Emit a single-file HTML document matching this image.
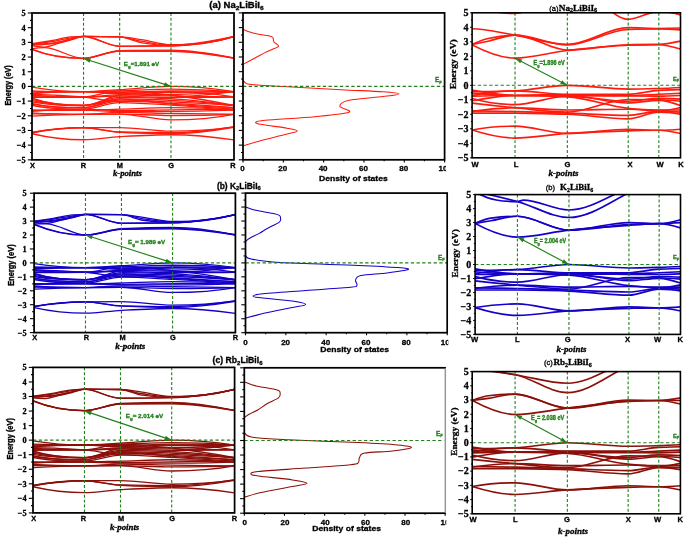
<!DOCTYPE html>
<html><head><meta charset="utf-8"><style>
html,body{margin:0;padding:0;background:#fff;}
body{width:685px;height:539px;overflow:hidden;font-family:"Liberation Sans", sans-serif;}
svg{display:block;}
svg{will-change:transform;}
</style></head><body>
<svg width="685" height="539" viewBox="0 0 685 539">
<rect width="685" height="539" fill="#fff"/>
<clipPath id="c13"><rect x="32" y="13" width="202" height="146.85"/></clipPath>
<g clip-path="url(#c13)">
<g fill="none" stroke="#ff1a0d" stroke-width="1.3" stroke-linejoin="round">
<path d="M32 132.24 C49.18 129.87 66.37 127.82 83.55 127.69 C95.59 127.6 107.63 127.54 119.67 127.54 C136.77 127.54 153.87 131.21 170.98 131.21 C191.98 131.21 212.99 129.92 234 126.81"/>
<path d="M32 132.68 C49.18 128.85 66.37 127.69 83.55 127.69 C95.59 127.69 107.63 131.63 119.67 131.95 C136.77 132.41 153.87 132.68 170.98 132.68 C191.98 132.68 212.99 130.01 234 126.81"/>
<path d="M32 133.12 C49.18 129.09 66.37 127.84 83.55 127.84 C95.59 127.84 107.63 131.66 119.67 132.24 C136.77 133.06 153.87 133.71 170.98 133.71 C191.98 133.71 212.99 130.92 234 127.25"/>
<path d="M32 133.71 C49.18 137.76 66.37 139.73 83.55 139.73 C95.59 139.73 107.63 137.29 119.67 136.65 C136.77 135.74 153.87 134.74 170.98 134.74 C191.98 134.74 212.99 136.79 234 139.88"/>
</g>
<g fill="none" stroke="#ff1a0d" stroke-width="1.3" stroke-linejoin="round">
<path d="M32 87.16 C49.18 90.14 66.37 91.71 83.55 91.71 C95.59 91.71 107.63 90.37 119.67 89.66 C136.77 88.64 153.87 86.42 170.98 86.42 C191.98 86.42 212.99 88.25 234 91.71"/>
<path d="M32 90.83 C49.18 91.54 66.37 91.71 83.55 91.71 C95.59 91.71 107.63 91.17 119.67 90.83 C136.77 90.35 153.87 89.07 170.98 89.07 C191.98 89.07 212.99 89.95 234 91.71"/>
<path d="M32 91.86 C49.18 91.71 66.37 91.71 83.55 91.71 C95.59 91.71 107.63 92.3 119.67 92.3 C136.77 92.3 153.87 90.83 170.98 90.83 C191.98 90.83 212.99 90.92 234 91.71"/>
<path d="M32 93.77 C49.18 92.1 66.37 91.71 83.55 91.71 C95.59 91.71 107.63 93.48 119.67 93.77 C136.77 94.17 153.87 94.5 170.98 94.5 C191.98 94.5 212.99 93.32 234 91.71"/>
<path d="M32 95.24 C49.18 96.74 66.37 97 83.55 97 C95.59 97 107.63 94.94 119.67 94.94 C136.77 94.94 153.87 95.66 170.98 95.97 C191.98 96.35 212.99 96.7 234 97"/>
<path d="M32 96.7 C49.18 97 66.37 97 83.55 97 C95.59 97 107.63 96.12 119.67 96.12 C136.77 96.12 153.87 97.44 170.98 97.44 C191.98 97.44 212.99 97.44 234 97"/>
<path d="M32 98.17 C49.18 104.32 66.37 105.52 83.55 105.52 C95.59 105.52 107.63 97.44 119.67 97.44 C136.77 97.44 153.87 98.15 170.98 98.91 C191.98 99.83 212.99 102.43 234 105.52"/>
<path d="M32 99.2 C49.18 104.39 66.37 105.52 83.55 105.52 C95.59 105.52 107.63 98.91 119.67 98.91 C136.77 98.91 153.87 99.66 170.98 100.38 C191.98 101.25 212.99 103.19 234 105.52"/>
<path d="M32 100.52 C49.18 104.69 66.37 105.52 83.55 105.52 C95.59 105.52 107.63 100.08 119.67 100.08 C136.77 100.08 153.87 101.11 170.98 101.84 C191.98 102.74 212.99 104.01 234 105.52"/>
<path d="M32 103.31 C49.18 107.49 66.37 107.72 83.55 107.72 C95.59 107.72 107.63 101.11 119.67 101.11 C136.77 101.11 153.87 102.41 170.98 103.31 C191.98 104.42 212.99 105.94 234 107.72"/>
<path d="M32 105.22 C49.18 109.17 66.37 109.19 83.55 109.19 C95.59 109.19 107.63 102.58 119.67 102.58 C136.77 102.58 153.87 104.13 170.98 105.07 C191.98 106.24 212.99 107.62 234 109.19"/>
<path d="M32 109.92 C49.18 110.21 66.37 110.21 83.55 110.21 C95.59 110.21 107.63 109.53 119.67 109.19 C136.77 108.7 153.87 107.72 170.98 107.72 C191.98 107.72 212.99 108.59 234 110.21"/>
<path d="M32 111.39 C49.18 109.81 66.37 109.19 83.55 109.19 C95.59 109.19 107.63 110.66 119.67 110.66 C136.77 110.66 153.87 110.14 170.98 109.92 C191.98 109.65 212.99 109.4 234 109.19"/>
<path d="M32 112.86 C49.18 114.17 66.37 114.33 83.55 114.33 C95.59 114.33 107.63 112.42 119.67 112.42 C136.77 112.42 153.87 113.16 170.98 113.45 C191.98 113.79 212.99 114.1 234 114.33"/>
<path d="M32 113.89 C49.18 114.2 66.37 114.33 83.55 114.33 C95.59 114.33 107.63 114.03 119.67 114.03 C136.77 114.03 153.87 115.5 170.98 115.5 C191.98 115.5 212.99 115.27 234 114.33"/>
<path d="M32 116.09 C49.18 115.24 66.37 114.54 83.55 114.33 C95.59 114.17 107.63 114.03 119.67 114.03 C136.77 114.03 153.87 119.91 170.98 119.91 C191.98 119.91 212.99 118.54 234 114.33"/>
<path d="M32 93.03 C49.18 91.96 66.37 91.71 83.55 91.71 C95.59 91.71 107.63 93.03 119.67 93.03 C136.77 93.03 153.87 92.49 170.98 92.3 C191.98 92.06 212.99 91.85 234 91.71"/>
<path d="M32 97.44 C49.18 97.44 66.37 97.29 83.55 97 C95.59 96.79 107.63 90.83 119.67 90.83 C136.77 90.83 153.87 93.33 170.98 95.24 C191.98 97.57 212.99 101.19 234 105.52"/>
<path d="M32 101.84 C49.18 105.52 66.37 105.52 83.55 105.52 C95.59 105.52 107.63 96.66 119.67 95.24 C136.77 93.21 153.87 91.56 170.98 91.56 C191.98 91.56 212.99 93.36 234 97"/>
<path d="M32 94.5 C49.18 94.5 66.37 95.74 83.55 97 C95.59 97.88 107.63 101.84 119.67 101.84 C136.77 101.84 153.87 99.61 170.98 98.17 C191.98 96.41 212.99 94.22 234 91.71"/>
<path d="M32 104.05 C49.18 107.72 66.37 107.72 83.55 107.72 C95.59 107.72 107.63 98.91 119.67 98.91 C136.77 98.91 153.87 102.78 170.98 104.05 C191.98 105.61 212.99 106.98 234 107.72"/>
<path d="M32 110.66 C49.18 110.21 66.37 110.21 83.55 110.21 C95.59 110.21 107.63 111.39 119.67 111.39 C136.77 111.39 153.87 111.39 170.98 111.39 C191.98 111.39 212.99 110.82 234 110.21"/>
</g>
<g fill="none" stroke="#ff1a0d" stroke-width="1.3" stroke-linejoin="round">
<path d="M32 43.69 C38.46 42.85 44.93 41.86 51.39 40.75 C57.92 39.64 64.45 37.41 70.99 36.94 C75.17 36.63 79.36 36.35 83.55 36.35 C95.59 36.35 107.63 36.57 119.67 36.94 C126.87 37.16 134.08 38.56 141.28 39.58 C151.18 40.99 161.08 44.72 170.98 44.72 C191.98 44.72 212.99 43.51 234 36.35"/>
<path d="M32 44.13 C38.46 43.51 44.93 42.64 51.39 41.64 C57.92 40.62 64.45 38.75 70.99 37.82 C75.17 37.22 79.36 36.35 83.55 36.35 C95.59 36.35 107.63 36.55 119.67 36.94 C126.87 37.17 134.08 40.01 141.28 41.2 C151.18 42.82 161.08 45.31 170.98 45.31 C191.98 45.31 212.99 43.34 234 36.35"/>
<path d="M32 44.57 C38.46 44.51 44.93 43.82 51.39 43.1 C57.92 42.38 64.45 40.36 70.99 38.99 C75.17 38.11 79.36 36.35 83.55 36.35 C95.59 36.35 107.63 36.54 119.67 36.94 C126.87 37.18 134.08 41.56 141.28 42.66 C151.18 44.18 161.08 45.75 170.98 45.75 C191.98 45.75 212.99 43.22 234 36.64"/>
<path d="M32 45.6 C36.11 46.83 40.21 47.07 44.32 47.07 C48.97 47.07 53.61 44.65 58.26 43.4 C62.5 42.25 66.74 41.03 70.99 39.87 C75.17 38.73 79.36 36.5 83.55 36.5 C95.59 36.5 107.63 46.33 119.67 46.33 C136.77 46.33 153.87 46.22 170.98 46.04 C191.98 45.82 212.99 41.51 234 36.79"/>
<path d="M32 48.68 C36.11 47.99 40.21 47.66 44.32 47.66 C57.4 47.66 70.47 58.38 83.55 58.38 C95.59 58.38 107.63 50.8 119.67 50.59 C136.77 50.3 153.87 50.15 170.98 50.15 C191.98 50.15 212.99 53.81 234 57.94"/>
<path d="M32 49.13 C49.18 56.08 66.37 58.38 83.55 58.38 C95.59 58.38 107.63 51.11 119.67 51.03 C136.77 50.93 153.87 50.89 170.98 50.89 C191.98 50.89 212.99 54.4 234 58.23"/>
<path d="M32 49.57 C49.18 56.36 66.37 58.52 83.55 58.52 C95.59 58.52 107.63 51.18 119.67 51.18 C136.77 51.18 153.87 51.29 170.98 51.47 C191.98 51.7 212.99 54.87 234 58.38"/>
<path d="M32 45.01 C38.46 45.01 44.93 44.45 51.39 43.84 C57.92 43.22 64.45 40.97 70.99 39.43 C75.17 38.45 79.36 36.35 83.55 36.35 C95.59 36.35 107.63 46.19 119.67 46.19 C136.77 46.19 153.87 45.89 170.98 45.45 C191.98 44.92 212.99 40.96 234 36.5"/>
</g>
</g>
<line x1="83.55" y1="13" x2="83.55" y2="159.85" stroke="#22801a" stroke-width="1.1" stroke-dasharray="2.9 2"/>
<line x1="119.67" y1="13" x2="119.67" y2="159.85" stroke="#22801a" stroke-width="1.1" stroke-dasharray="2.9 2"/>
<line x1="170.98" y1="13" x2="170.98" y2="159.85" stroke="#22801a" stroke-width="1.1" stroke-dasharray="2.9 2"/>
<line x1="32" y1="86.42" x2="234" y2="86.42" stroke="#22801a" stroke-width="1.1" stroke-dasharray="3.3 2.4"/>
<rect x="32" y="13" width="202" height="146.85" fill="none" stroke="#000" stroke-width="1.75"/>
<line x1="27.8" y1="159.85" x2="32" y2="159.85" stroke="#000" stroke-width="1.1"/>
<line x1="30" y1="152.51" x2="32" y2="152.51" stroke="#000" stroke-width="1.1"/>
<line x1="27.8" y1="145.16" x2="32" y2="145.16" stroke="#000" stroke-width="1.1"/>
<line x1="30" y1="137.82" x2="32" y2="137.82" stroke="#000" stroke-width="1.1"/>
<line x1="27.8" y1="130.48" x2="32" y2="130.48" stroke="#000" stroke-width="1.1"/>
<line x1="30" y1="123.14" x2="32" y2="123.14" stroke="#000" stroke-width="1.1"/>
<line x1="27.8" y1="115.79" x2="32" y2="115.79" stroke="#000" stroke-width="1.1"/>
<line x1="30" y1="108.45" x2="32" y2="108.45" stroke="#000" stroke-width="1.1"/>
<line x1="27.8" y1="101.11" x2="32" y2="101.11" stroke="#000" stroke-width="1.1"/>
<line x1="30" y1="93.77" x2="32" y2="93.77" stroke="#000" stroke-width="1.1"/>
<line x1="27.8" y1="86.42" x2="32" y2="86.42" stroke="#000" stroke-width="1.1"/>
<line x1="30" y1="79.08" x2="32" y2="79.08" stroke="#000" stroke-width="1.1"/>
<line x1="27.8" y1="71.74" x2="32" y2="71.74" stroke="#000" stroke-width="1.1"/>
<line x1="30" y1="64.4" x2="32" y2="64.4" stroke="#000" stroke-width="1.1"/>
<line x1="27.8" y1="57.05" x2="32" y2="57.05" stroke="#000" stroke-width="1.1"/>
<line x1="30" y1="49.71" x2="32" y2="49.71" stroke="#000" stroke-width="1.1"/>
<line x1="27.8" y1="42.37" x2="32" y2="42.37" stroke="#000" stroke-width="1.1"/>
<line x1="30" y1="35.03" x2="32" y2="35.03" stroke="#000" stroke-width="1.1"/>
<line x1="27.8" y1="27.69" x2="32" y2="27.69" stroke="#000" stroke-width="1.1"/>
<line x1="30" y1="20.34" x2="32" y2="20.34" stroke="#000" stroke-width="1.1"/>
<line x1="27.8" y1="13" x2="32" y2="13" stroke="#000" stroke-width="1.1"/>
<text font-family='"Liberation Serif", serif' font-size="8.3" font-weight="bold" font-style="normal" text-anchor="end" fill="#000" transform="translate(25.6 162.75)" stroke="#000" stroke-width="0.3" >&#8722;5</text>
<text font-family='"Liberation Serif", serif' font-size="8.3" font-weight="bold" font-style="normal" text-anchor="end" fill="#000" transform="translate(25.6 148.06)" stroke="#000" stroke-width="0.3" >&#8722;4</text>
<text font-family='"Liberation Serif", serif' font-size="8.3" font-weight="bold" font-style="normal" text-anchor="end" fill="#000" transform="translate(25.6 133.38)" stroke="#000" stroke-width="0.3" >&#8722;3</text>
<text font-family='"Liberation Serif", serif' font-size="8.3" font-weight="bold" font-style="normal" text-anchor="end" fill="#000" transform="translate(25.6 118.69)" stroke="#000" stroke-width="0.3" >&#8722;2</text>
<text font-family='"Liberation Serif", serif' font-size="8.3" font-weight="bold" font-style="normal" text-anchor="end" fill="#000" transform="translate(25.6 104.01)" stroke="#000" stroke-width="0.3" >&#8722;1</text>
<text font-family='"Liberation Serif", serif' font-size="8.3" font-weight="bold" font-style="normal" text-anchor="end" fill="#000" transform="translate(25.6 89.33)" stroke="#000" stroke-width="0.3" >0</text>
<text font-family='"Liberation Serif", serif' font-size="8.3" font-weight="bold" font-style="normal" text-anchor="end" fill="#000" transform="translate(25.6 74.64)" stroke="#000" stroke-width="0.3" >1</text>
<text font-family='"Liberation Serif", serif' font-size="8.3" font-weight="bold" font-style="normal" text-anchor="end" fill="#000" transform="translate(25.6 59.95)" stroke="#000" stroke-width="0.3" >2</text>
<text font-family='"Liberation Serif", serif' font-size="8.3" font-weight="bold" font-style="normal" text-anchor="end" fill="#000" transform="translate(25.6 45.27)" stroke="#000" stroke-width="0.3" >3</text>
<text font-family='"Liberation Serif", serif' font-size="8.3" font-weight="bold" font-style="normal" text-anchor="end" fill="#000" transform="translate(25.6 30.59)" stroke="#000" stroke-width="0.3" >4</text>
<text font-family='"Liberation Serif", serif' font-size="8.3" font-weight="bold" font-style="normal" text-anchor="end" fill="#000" transform="translate(25.6 15.9)" stroke="#000" stroke-width="0.3" >5</text>
<text font-family='"Liberation Sans", sans-serif' font-size="7.4" font-weight="bold" font-style="normal" text-anchor="middle" fill="#000" transform="translate(32.5 167.6)" stroke="#000" stroke-width="0.3" >X</text>
<text font-family='"Liberation Sans", sans-serif' font-size="7.4" font-weight="bold" font-style="normal" text-anchor="middle" fill="#000" transform="translate(83.4 167.6)" stroke="#000" stroke-width="0.3" >R</text>
<text font-family='"Liberation Sans", sans-serif' font-size="7.4" font-weight="bold" font-style="normal" text-anchor="middle" fill="#000" transform="translate(119.9 167.6)" stroke="#000" stroke-width="0.3" >M</text>
<text font-family='"Liberation Sans", sans-serif' font-size="7.4" font-weight="bold" font-style="normal" text-anchor="middle" fill="#000" transform="translate(171.1 167.6)" stroke="#000" stroke-width="0.3" >G</text>
<text font-family='"Liberation Sans", sans-serif' font-size="7.4" font-weight="bold" font-style="normal" text-anchor="middle" fill="#000" transform="translate(232.8 167.6)" stroke="#000" stroke-width="0.3" >R</text>
<text font-family='"Liberation Serif", serif' font-size="8.2" font-weight="bold" font-style="italic" text-anchor="middle" fill="#000" transform="translate(127.35 175.8) scale(1.057 1)" stroke="#000" stroke-width="0.3" >k-points</text>
<text font-family='"Liberation Sans", sans-serif' font-size="8.3" font-weight="bold" font-style="normal" text-anchor="middle" fill="#000" transform="translate(10.5 85.45) rotate(-90) scale(0.874 1)" stroke="#000" stroke-width="0.34" >Energy (eV)</text>
<line x1="83.55" y1="58.52" x2="170.98" y2="86.42" stroke="#22801a" stroke-width="1.15"/>
<polygon points="83.55,58.52 89.55,62.75 90.89,58.56" fill="#22801a"/>
<polygon points="170.98,86.42 164.98,82.2 163.64,86.39" fill="#22801a"/>
<text font-family='"Liberation Sans", sans-serif' font-size="5.8" font-weight="bold" font-style="normal" text-anchor="start" fill="#22801a" transform="translate(123.8 66) scale(1.071 1)" stroke="#22801a" stroke-width="0.3" >E<tspan font-size="4.2" dy="1.6">g</tspan><tspan dy="-1.6">=1.891 eV</tspan></text>
<text font-family='"Liberation Sans", sans-serif' font-size="8.2" font-weight="bold" font-style="normal" text-anchor="start" fill="#000" transform="translate(209.3 8.2) scale(1.161 1)" stroke="#000" stroke-width="0.3" >(a) Na<tspan font-size="5.6" dy="1.6">2</tspan><tspan dy="-1.6">LiBiI<tspan font-size="5.6" dy="1.6">6</tspan><tspan dy="-1.6"></tspan></tspan></text>
<clipPath id="c193"><rect x="34.1" y="193.2" width="201.3" height="139.4"/></clipPath>
<g clip-path="url(#c193)">
<g fill="none" stroke="#1500c8" stroke-width="1.3" stroke-linejoin="round">
<path d="M34.1 306.11 C51.22 303.87 68.35 301.91 85.47 301.79 C97.47 301.71 109.47 301.65 121.46 301.65 C138.51 301.65 155.55 305.14 172.59 305.14 C193.53 305.14 214.46 303.91 235.4 300.96"/>
<path d="M34.1 306.53 C51.22 302.89 68.35 301.79 85.47 301.79 C97.47 301.79 109.47 305.53 121.46 305.84 C138.51 306.27 155.55 306.53 172.59 306.53 C193.53 306.53 214.46 304 235.4 300.96"/>
<path d="M34.1 306.95 C51.22 303.12 68.35 301.93 85.47 301.93 C97.47 301.93 109.47 305.56 121.46 306.11 C138.51 306.89 155.55 307.51 172.59 307.51 C193.53 307.51 214.46 304.86 235.4 301.37"/>
<path d="M34.1 307.51 C51.22 311.35 68.35 313.22 85.47 313.22 C97.47 313.22 109.47 310.9 121.46 310.3 C138.51 309.43 155.55 308.48 172.59 308.48 C193.53 308.48 214.46 310.43 235.4 313.36"/>
</g>
<g fill="none" stroke="#1500c8" stroke-width="1.3" stroke-linejoin="round">
<path d="M34.1 263.55 C51.22 266.18 68.35 267.57 85.47 267.57 C97.47 267.57 109.47 266.39 121.46 265.75 C138.51 264.85 155.55 262.9 172.59 262.9 C193.53 262.9 214.46 264.51 235.4 267.57"/>
<path d="M34.1 266.79 C51.22 267.42 68.35 267.57 85.47 267.57 C97.47 267.57 109.47 267.09 121.46 266.79 C138.51 266.36 155.55 265.23 172.59 265.23 C193.53 265.23 214.46 266.01 235.4 267.57"/>
<path d="M34.1 267.7 C51.22 267.57 68.35 267.57 85.47 267.57 C97.47 267.57 109.47 268.09 121.46 268.09 C138.51 268.09 155.55 266.79 172.59 266.79 C193.53 266.79 214.46 266.87 235.4 267.57"/>
<path d="M34.1 269.38 C51.22 267.91 68.35 267.57 85.47 267.57 C97.47 267.57 109.47 269.13 121.46 269.38 C138.51 269.74 155.55 270.03 172.59 270.03 C193.53 270.03 214.46 268.99 235.4 267.57"/>
<path d="M34.1 270.68 C51.22 272.01 68.35 272.23 85.47 272.23 C97.47 272.23 109.47 270.42 121.46 270.42 C138.51 270.42 155.55 271.05 172.59 271.33 C193.53 271.66 214.46 271.97 235.4 272.23"/>
<path d="M34.1 271.97 C51.22 272.23 68.35 272.23 85.47 272.23 C97.47 272.23 109.47 271.46 121.46 271.46 C138.51 271.46 155.55 272.62 172.59 272.62 C193.53 272.62 214.46 272.62 235.4 272.23"/>
<path d="M34.1 273.27 C51.22 278.7 68.35 279.75 85.47 279.75 C97.47 279.75 109.47 272.62 121.46 272.62 C138.51 272.62 155.55 273.25 172.59 273.92 C193.53 274.74 214.46 277.03 235.4 279.75"/>
<path d="M34.1 274.18 C51.22 278.76 68.35 279.75 85.47 279.75 C97.47 279.75 109.47 273.92 121.46 273.92 C138.51 273.92 155.55 274.59 172.59 275.22 C193.53 275.99 214.46 277.7 235.4 279.75"/>
<path d="M34.1 275.35 C51.22 279.02 68.35 279.75 85.47 279.75 C97.47 279.75 109.47 274.96 121.46 274.96 C138.51 274.96 155.55 275.87 172.59 276.51 C193.53 277.31 214.46 278.43 235.4 279.75"/>
<path d="M34.1 277.81 C51.22 281.5 68.35 281.7 85.47 281.7 C97.47 281.7 109.47 275.86 121.46 275.86 C138.51 275.86 155.55 277.01 172.59 277.81 C193.53 278.79 214.46 280.13 235.4 281.7"/>
<path d="M34.1 279.49 C51.22 282.98 68.35 282.99 85.47 282.99 C97.47 282.99 109.47 277.16 121.46 277.16 C138.51 277.16 155.55 278.53 172.59 279.36 C193.53 280.39 214.46 281.61 235.4 282.99"/>
<path d="M34.1 283.64 C51.22 283.9 68.35 283.9 85.47 283.9 C97.47 283.9 109.47 283.3 121.46 282.99 C138.51 282.56 155.55 281.7 172.59 281.7 C193.53 281.7 214.46 282.47 235.4 283.9"/>
<path d="M34.1 284.94 C51.22 283.55 68.35 282.99 85.47 282.99 C97.47 282.99 109.47 284.29 121.46 284.29 C138.51 284.29 155.55 283.84 172.59 283.64 C193.53 283.4 214.46 283.18 235.4 282.99"/>
<path d="M34.1 286.24 C51.22 287.39 68.35 287.53 85.47 287.53 C97.47 287.53 109.47 285.85 121.46 285.85 C138.51 285.85 155.55 286.5 172.59 286.75 C193.53 287.06 214.46 287.33 235.4 287.53"/>
<path d="M34.1 287.14 C51.22 287.42 68.35 287.53 85.47 287.53 C97.47 287.53 109.47 287.27 121.46 287.27 C138.51 287.27 155.55 288.57 172.59 288.57 C193.53 288.57 214.46 288.36 235.4 287.53"/>
<path d="M34.1 289.09 C51.22 288.34 68.35 287.72 85.47 287.53 C97.47 287.4 109.47 287.27 121.46 287.27 C138.51 287.27 155.55 292.46 172.59 292.46 C193.53 292.46 214.46 291.25 235.4 287.53"/>
<path d="M34.1 268.73 C51.22 267.79 68.35 267.57 85.47 267.57 C97.47 267.57 109.47 268.73 121.46 268.73 C138.51 268.73 155.55 268.26 172.59 268.09 C193.53 267.87 214.46 267.69 235.4 267.57"/>
<path d="M34.1 272.62 C51.22 272.62 68.35 272.49 85.47 272.23 C97.47 272.05 109.47 266.79 121.46 266.79 C138.51 266.79 155.55 269 172.59 270.68 C193.53 272.74 214.46 275.94 235.4 279.75"/>
<path d="M34.1 276.51 C51.22 279.75 68.35 279.75 85.47 279.75 C97.47 279.75 109.47 271.94 121.46 270.68 C138.51 268.89 155.55 267.44 172.59 267.44 C193.53 267.44 214.46 269.02 235.4 272.23"/>
<path d="M34.1 270.03 C51.22 270.03 68.35 271.12 85.47 272.23 C97.47 273.01 109.47 276.51 121.46 276.51 C138.51 276.51 155.55 274.54 172.59 273.27 C193.53 271.72 214.46 269.79 235.4 267.57"/>
<path d="M34.1 278.46 C51.22 281.7 68.35 281.7 85.47 281.7 C97.47 281.7 109.47 273.92 121.46 273.92 C138.51 273.92 155.55 277.33 172.59 278.46 C193.53 279.84 214.46 281.05 235.4 281.7"/>
<path d="M34.1 284.29 C51.22 283.9 68.35 283.9 85.47 283.9 C97.47 283.9 109.47 284.94 121.46 284.94 C138.51 284.94 155.55 284.94 172.59 284.94 C193.53 284.94 214.46 284.44 235.4 283.9"/>
</g>
<g fill="none" stroke="#1500c8" stroke-width="1.3" stroke-linejoin="round">
<path d="M34.1 221.08 C40.54 220.24 46.98 219.3 53.42 218.29 C59.93 217.27 66.44 215.39 72.95 214.95 C77.12 214.66 81.3 214.39 85.47 214.39 C97.47 214.39 109.47 214.48 121.46 214.67 C128.64 214.78 135.82 216.38 143 217.32 C152.87 218.61 162.73 221.5 172.59 221.5 C193.53 221.5 214.46 220.38 235.4 214.39"/>
<path d="M34.1 221.36 C40.54 220.79 46.98 220.02 53.42 219.13 C59.93 218.23 66.44 216.65 72.95 215.78 C77.12 215.23 81.3 214.39 85.47 214.39 C97.47 214.39 109.47 214.47 121.46 214.67 C128.64 214.78 135.82 217.84 143 218.85 C152.87 220.24 162.73 222.06 172.59 222.06 C193.53 222.06 214.46 220.22 235.4 214.39"/>
<path d="M34.1 221.64 C40.54 221.58 46.98 221 53.42 220.38 C59.93 219.76 66.44 218.13 72.95 216.9 C77.12 216.11 81.3 214.39 85.47 214.39 C97.47 214.39 109.47 214.47 121.46 214.67 C128.64 214.78 135.82 219.38 143 220.24 C152.87 221.43 162.73 222.47 172.59 222.47 C193.53 222.47 214.46 220.05 235.4 214.53"/>
<path d="M34.1 222.47 C38.19 223.29 42.29 223.31 46.38 223.31 C51.01 223.31 55.64 221.38 60.27 220.38 C64.5 219.47 68.72 218.57 72.95 217.59 C77.12 216.63 81.3 214.53 85.47 214.53 C97.47 214.53 109.47 223.31 121.46 223.31 C138.51 223.31 155.55 223.15 172.59 222.89 C193.53 222.58 214.46 218.89 235.4 214.81"/>
<path d="M34.1 223.87 C38.19 223.87 42.29 223.87 46.38 223.87 C59.41 223.87 72.44 235.02 85.47 235.02 C97.47 235.02 109.47 229.34 121.46 228.75 C138.51 227.91 155.55 227.35 172.59 227.35 C193.53 227.35 214.46 230.61 235.4 234.74"/>
<path d="M34.1 224.15 C51.22 231.54 68.35 235.02 85.47 235.02 C97.47 235.02 109.47 229.65 121.46 229.17 C138.51 228.48 155.55 228.05 172.59 228.05 C193.53 228.05 214.46 231.1 235.4 234.88"/>
<path d="M34.1 224.56 C51.22 231.77 68.35 235.16 85.47 235.16 C97.47 235.16 109.47 229.76 121.46 229.44 C138.51 228.99 155.55 228.75 172.59 228.75 C193.53 228.75 214.46 231.62 235.4 235.02"/>
<path d="M34.1 222.06 C40.54 222.06 46.98 221.6 53.42 221.08 C59.93 220.56 66.44 218.55 72.95 217.18 C77.12 216.29 81.3 214.39 85.47 214.39 C97.47 214.39 109.47 223.17 121.46 223.17 C138.51 223.17 155.55 223.01 172.59 222.75 C193.53 222.44 214.46 218.75 235.4 214.67"/>
</g>
</g>
<line x1="85.47" y1="193.2" x2="85.47" y2="332.6" stroke="#22801a" stroke-width="1.1" stroke-dasharray="2.9 2"/>
<line x1="121.46" y1="193.2" x2="121.46" y2="332.6" stroke="#22801a" stroke-width="1.1" stroke-dasharray="2.9 2"/>
<line x1="172.59" y1="193.2" x2="172.59" y2="332.6" stroke="#22801a" stroke-width="1.1" stroke-dasharray="2.9 2"/>
<line x1="34.1" y1="262.9" x2="235.4" y2="262.9" stroke="#22801a" stroke-width="1.1" stroke-dasharray="3.3 2.4"/>
<rect x="34.1" y="193.2" width="201.3" height="139.4" fill="none" stroke="#000" stroke-width="1.75"/>
<line x1="29.9" y1="332.6" x2="34.1" y2="332.6" stroke="#000" stroke-width="1.1"/>
<line x1="32.1" y1="325.63" x2="34.1" y2="325.63" stroke="#000" stroke-width="1.1"/>
<line x1="29.9" y1="318.66" x2="34.1" y2="318.66" stroke="#000" stroke-width="1.1"/>
<line x1="32.1" y1="311.69" x2="34.1" y2="311.69" stroke="#000" stroke-width="1.1"/>
<line x1="29.9" y1="304.72" x2="34.1" y2="304.72" stroke="#000" stroke-width="1.1"/>
<line x1="32.1" y1="297.75" x2="34.1" y2="297.75" stroke="#000" stroke-width="1.1"/>
<line x1="29.9" y1="290.78" x2="34.1" y2="290.78" stroke="#000" stroke-width="1.1"/>
<line x1="32.1" y1="283.81" x2="34.1" y2="283.81" stroke="#000" stroke-width="1.1"/>
<line x1="29.9" y1="276.84" x2="34.1" y2="276.84" stroke="#000" stroke-width="1.1"/>
<line x1="32.1" y1="269.87" x2="34.1" y2="269.87" stroke="#000" stroke-width="1.1"/>
<line x1="29.9" y1="262.9" x2="34.1" y2="262.9" stroke="#000" stroke-width="1.1"/>
<line x1="32.1" y1="255.93" x2="34.1" y2="255.93" stroke="#000" stroke-width="1.1"/>
<line x1="29.9" y1="248.96" x2="34.1" y2="248.96" stroke="#000" stroke-width="1.1"/>
<line x1="32.1" y1="241.99" x2="34.1" y2="241.99" stroke="#000" stroke-width="1.1"/>
<line x1="29.9" y1="235.02" x2="34.1" y2="235.02" stroke="#000" stroke-width="1.1"/>
<line x1="32.1" y1="228.05" x2="34.1" y2="228.05" stroke="#000" stroke-width="1.1"/>
<line x1="29.9" y1="221.08" x2="34.1" y2="221.08" stroke="#000" stroke-width="1.1"/>
<line x1="32.1" y1="214.11" x2="34.1" y2="214.11" stroke="#000" stroke-width="1.1"/>
<line x1="29.9" y1="207.14" x2="34.1" y2="207.14" stroke="#000" stroke-width="1.1"/>
<line x1="32.1" y1="200.17" x2="34.1" y2="200.17" stroke="#000" stroke-width="1.1"/>
<line x1="29.9" y1="193.2" x2="34.1" y2="193.2" stroke="#000" stroke-width="1.1"/>
<text font-family='"Liberation Serif", serif' font-size="8.3" font-weight="bold" font-style="normal" text-anchor="end" fill="#000" transform="translate(26.7 335.5)" stroke="#000" stroke-width="0.3" >&#8722;5</text>
<text font-family='"Liberation Serif", serif' font-size="8.3" font-weight="bold" font-style="normal" text-anchor="end" fill="#000" transform="translate(26.7 321.56)" stroke="#000" stroke-width="0.3" >&#8722;4</text>
<text font-family='"Liberation Serif", serif' font-size="8.3" font-weight="bold" font-style="normal" text-anchor="end" fill="#000" transform="translate(26.7 307.62)" stroke="#000" stroke-width="0.3" >&#8722;3</text>
<text font-family='"Liberation Serif", serif' font-size="8.3" font-weight="bold" font-style="normal" text-anchor="end" fill="#000" transform="translate(26.7 293.68)" stroke="#000" stroke-width="0.3" >&#8722;2</text>
<text font-family='"Liberation Serif", serif' font-size="8.3" font-weight="bold" font-style="normal" text-anchor="end" fill="#000" transform="translate(26.7 279.74)" stroke="#000" stroke-width="0.3" >&#8722;1</text>
<text font-family='"Liberation Serif", serif' font-size="8.3" font-weight="bold" font-style="normal" text-anchor="end" fill="#000" transform="translate(26.7 265.8)" stroke="#000" stroke-width="0.3" >0</text>
<text font-family='"Liberation Serif", serif' font-size="8.3" font-weight="bold" font-style="normal" text-anchor="end" fill="#000" transform="translate(26.7 251.86)" stroke="#000" stroke-width="0.3" >1</text>
<text font-family='"Liberation Serif", serif' font-size="8.3" font-weight="bold" font-style="normal" text-anchor="end" fill="#000" transform="translate(26.7 237.92)" stroke="#000" stroke-width="0.3" >2</text>
<text font-family='"Liberation Serif", serif' font-size="8.3" font-weight="bold" font-style="normal" text-anchor="end" fill="#000" transform="translate(26.7 223.98)" stroke="#000" stroke-width="0.3" >3</text>
<text font-family='"Liberation Serif", serif' font-size="8.3" font-weight="bold" font-style="normal" text-anchor="end" fill="#000" transform="translate(26.7 210.04)" stroke="#000" stroke-width="0.3" >4</text>
<text font-family='"Liberation Serif", serif' font-size="8.3" font-weight="bold" font-style="normal" text-anchor="end" fill="#000" transform="translate(26.7 196.1)" stroke="#000" stroke-width="0.3" >5</text>
<text font-family='"Liberation Sans", sans-serif' font-size="7.4" font-weight="bold" font-style="normal" text-anchor="middle" fill="#000" transform="translate(34.6 340.2)" stroke="#000" stroke-width="0.3" >X</text>
<text font-family='"Liberation Sans", sans-serif' font-size="7.4" font-weight="bold" font-style="normal" text-anchor="middle" fill="#000" transform="translate(86.5 340.2)" stroke="#000" stroke-width="0.3" >R</text>
<text font-family='"Liberation Sans", sans-serif' font-size="7.4" font-weight="bold" font-style="normal" text-anchor="middle" fill="#000" transform="translate(122.6 340.2)" stroke="#000" stroke-width="0.3" >M</text>
<text font-family='"Liberation Sans", sans-serif' font-size="7.4" font-weight="bold" font-style="normal" text-anchor="middle" fill="#000" transform="translate(172.8 340.2)" stroke="#000" stroke-width="0.3" >G</text>
<text font-family='"Liberation Sans", sans-serif' font-size="7.4" font-weight="bold" font-style="normal" text-anchor="middle" fill="#000" transform="translate(235.4 340.2)" stroke="#000" stroke-width="0.3" >R</text>
<text font-family='"Liberation Serif", serif' font-size="8.2" font-weight="bold" font-style="italic" text-anchor="middle" fill="#000" transform="translate(130.25 348.5) scale(1.108 1)" stroke="#000" stroke-width="0.3" >k-points</text>
<text font-family='"Liberation Sans", sans-serif' font-size="8.3" font-weight="bold" font-style="normal" text-anchor="middle" fill="#000" transform="translate(13.6 265.05) rotate(-90) scale(0.900 1)" stroke="#000" stroke-width="0.33" >Energy (eV)</text>
<line x1="85.47" y1="235.02" x2="172.59" y2="262.9" stroke="#22801a" stroke-width="1.15"/>
<polygon points="85.47,235.02 91.47,239.25 92.81,235.06" fill="#22801a"/>
<polygon points="172.59,262.9 166.6,258.67 165.26,262.86" fill="#22801a"/>
<text font-family='"Liberation Sans", sans-serif' font-size="5.8" font-weight="bold" font-style="normal" text-anchor="start" fill="#22801a" transform="translate(128 243.9) scale(1.076 1)" stroke="#22801a" stroke-width="0.3" >E<tspan font-size="4.2" dy="1.6">g</tspan><tspan dy="-1.6">= 1.989 eV</tspan></text>
<text font-family='"Liberation Sans", sans-serif' font-size="8.2" font-weight="bold" font-style="normal" text-anchor="start" fill="#000" transform="translate(216.9 188.7) scale(1.027 1)" stroke="#000" stroke-width="0.3" >(b) K<tspan font-size="5.6" dy="1.6">2</tspan><tspan dy="-1.6">LiBiI<tspan font-size="5.6" dy="1.6">6</tspan><tspan dy="-1.6"></tspan></tspan></text>
<clipPath id="c367"><rect x="33" y="367.4" width="201.6" height="145.5"/></clipPath>
<g clip-path="url(#c367)">
<g fill="none" stroke="#8c0f0a" stroke-width="1.3" stroke-linejoin="round">
<path d="M33 485.25 C50.15 482.91 67.3 480.87 84.45 480.74 C96.46 480.66 108.48 480.6 120.49 480.6 C137.56 480.6 154.63 484.24 171.7 484.24 C192.67 484.24 213.63 482.95 234.6 479.87"/>
<path d="M33 485.69 C50.15 481.89 67.3 480.74 84.45 480.74 C96.46 480.74 108.48 484.65 120.49 484.96 C137.56 485.42 154.63 485.69 171.7 485.69 C192.67 485.69 213.63 483.05 234.6 479.87"/>
<path d="M33 486.13 C50.15 482.13 67.3 480.89 84.45 480.89 C96.46 480.89 108.48 484.68 120.49 485.25 C137.56 486.07 154.63 486.71 171.7 486.71 C192.67 486.71 213.63 483.95 234.6 480.31"/>
<path d="M33 486.71 C50.15 490.72 67.3 492.68 84.45 492.68 C96.46 492.68 108.48 490.25 120.49 489.62 C137.56 488.72 154.63 487.73 171.7 487.73 C192.67 487.73 213.63 489.76 234.6 492.82"/>
</g>
<g fill="none" stroke="#8c0f0a" stroke-width="1.3" stroke-linejoin="round">
<path d="M33 440.83 C50.15 443.58 67.3 445.02 84.45 445.02 C96.46 445.02 108.48 443.79 120.49 443.13 C137.56 442.19 154.63 440.15 171.7 440.15 C192.67 440.15 213.63 441.83 234.6 445.02"/>
<path d="M33 444.21 C50.15 444.87 67.3 445.02 84.45 445.02 C96.46 445.02 108.48 444.52 120.49 444.21 C137.56 443.76 154.63 442.59 171.7 442.59 C192.67 442.59 213.63 443.4 234.6 445.02"/>
<path d="M33 445.16 C50.15 445.02 67.3 445.02 84.45 445.02 C96.46 445.02 108.48 445.56 120.49 445.56 C137.56 445.56 154.63 444.21 171.7 444.21 C192.67 444.21 213.63 444.3 234.6 445.02"/>
<path d="M33 446.92 C50.15 445.38 67.3 445.02 84.45 445.02 C96.46 445.02 108.48 446.65 120.49 446.92 C137.56 447.29 154.63 447.59 171.7 447.59 C192.67 447.59 213.63 446.5 234.6 445.02"/>
<path d="M33 448.27 C50.15 449.66 67.3 449.89 84.45 449.89 C96.46 449.89 108.48 448 120.49 448 C137.56 448 154.63 448.66 171.7 448.95 C192.67 449.29 213.63 449.62 234.6 449.89"/>
<path d="M33 449.62 C50.15 449.89 67.3 449.89 84.45 449.89 C96.46 449.89 108.48 449.08 120.49 449.08 C137.56 449.08 154.63 450.3 171.7 450.3 C192.67 450.3 213.63 450.3 234.6 449.89"/>
<path d="M33 450.98 C50.15 456.64 67.3 457.74 84.45 457.74 C96.46 457.74 108.48 450.3 120.49 450.3 C137.56 450.3 154.63 450.96 171.7 451.65 C192.67 452.51 213.63 454.9 234.6 457.74"/>
<path d="M33 451.92 C50.15 456.71 67.3 457.74 84.45 457.74 C96.46 457.74 108.48 451.65 120.49 451.65 C137.56 451.65 154.63 452.35 171.7 453 C192.67 453.81 213.63 455.6 234.6 457.74"/>
<path d="M33 453.14 C50.15 456.98 67.3 457.74 84.45 457.74 C96.46 457.74 108.48 452.73 120.49 452.73 C137.56 452.73 154.63 453.68 171.7 454.36 C192.67 455.19 213.63 456.36 234.6 457.74"/>
<path d="M33 455.71 C50.15 459.56 67.3 459.77 84.45 459.77 C96.46 459.77 108.48 453.68 120.49 453.68 C137.56 453.68 154.63 454.88 171.7 455.71 C192.67 456.73 213.63 458.13 234.6 459.77"/>
<path d="M33 457.47 C50.15 461.11 67.3 461.12 84.45 461.12 C96.46 461.12 108.48 455.03 120.49 455.03 C137.56 455.03 154.63 456.46 171.7 457.34 C192.67 458.41 213.63 459.68 234.6 461.12"/>
<path d="M33 461.8 C50.15 462.07 67.3 462.07 84.45 462.07 C96.46 462.07 108.48 461.44 120.49 461.12 C137.56 460.67 154.63 459.77 171.7 459.77 C192.67 459.77 213.63 460.58 234.6 462.07"/>
<path d="M33 463.15 C50.15 461.7 67.3 461.12 84.45 461.12 C96.46 461.12 108.48 462.48 120.49 462.48 C137.56 462.48 154.63 462 171.7 461.8 C192.67 461.55 213.63 461.32 234.6 461.12"/>
<path d="M33 464.51 C50.15 465.72 67.3 465.86 84.45 465.86 C96.46 465.86 108.48 464.1 120.49 464.1 C137.56 464.1 154.63 464.79 171.7 465.05 C192.67 465.37 213.63 465.65 234.6 465.86"/>
<path d="M33 465.45 C50.15 465.74 67.3 465.86 84.45 465.86 C96.46 465.86 108.48 465.59 120.49 465.59 C137.56 465.59 154.63 466.94 171.7 466.94 C192.67 466.94 213.63 466.73 234.6 465.86"/>
<path d="M33 467.48 C50.15 466.7 67.3 466.06 84.45 465.86 C96.46 465.72 108.48 465.59 120.49 465.59 C137.56 465.59 154.63 471 171.7 471 C192.67 471 213.63 469.74 234.6 465.86"/>
<path d="M33 446.24 C50.15 445.25 67.3 445.02 84.45 445.02 C96.46 445.02 108.48 446.24 120.49 446.24 C137.56 446.24 154.63 445.74 171.7 445.56 C192.67 445.34 213.63 445.15 234.6 445.02"/>
<path d="M33 450.3 C50.15 450.3 67.3 450.16 84.45 449.89 C96.46 449.7 108.48 444.21 120.49 444.21 C137.56 444.21 154.63 446.51 171.7 448.27 C192.67 450.42 213.63 453.76 234.6 457.74"/>
<path d="M33 454.36 C50.15 457.74 67.3 457.74 84.45 457.74 C96.46 457.74 108.48 449.58 120.49 448.27 C137.56 446.4 154.63 444.89 171.7 444.89 C192.67 444.89 213.63 446.54 234.6 449.89"/>
<path d="M33 447.59 C50.15 447.59 67.3 448.73 84.45 449.89 C96.46 450.7 108.48 454.36 120.49 454.36 C137.56 454.36 154.63 452.3 171.7 450.98 C192.67 449.35 213.63 447.34 234.6 445.02"/>
<path d="M33 456.39 C50.15 459.77 67.3 459.77 84.45 459.77 C96.46 459.77 108.48 451.65 120.49 451.65 C137.56 451.65 154.63 455.22 171.7 456.39 C192.67 457.83 213.63 459.09 234.6 459.77"/>
<path d="M33 462.48 C50.15 462.07 67.3 462.07 84.45 462.07 C96.46 462.07 108.48 463.15 120.49 463.15 C137.56 463.15 154.63 463.15 171.7 463.15 C192.67 463.15 213.63 462.63 234.6 462.07"/>
</g>
<g fill="none" stroke="#8c0f0a" stroke-width="1.3" stroke-linejoin="round">
<path d="M33 396.21 C39.45 395.33 45.9 394.35 52.35 393.3 C58.87 392.23 65.39 390.27 71.91 389.81 C76.09 389.51 80.27 389.22 84.45 389.22 C96.46 389.22 108.48 389.32 120.49 389.52 C127.68 389.63 134.88 391.18 142.07 392.13 C151.94 393.44 161.82 396.5 171.7 396.5 C192.67 396.5 213.63 395.4 234.6 389.22"/>
<path d="M33 396.5 C39.45 395.91 45.9 395.1 52.35 394.17 C58.87 393.24 65.39 391.58 71.91 390.68 C76.09 390.1 80.27 389.22 84.45 389.22 C96.46 389.22 108.48 389.31 120.49 389.52 C127.68 389.64 134.88 392.72 142.07 393.74 C151.94 395.13 161.82 396.94 171.7 396.94 C192.67 396.94 213.63 395.08 234.6 389.22"/>
<path d="M33 396.79 C39.45 396.73 45.9 396.12 52.35 395.48 C58.87 394.84 65.39 393.13 71.91 391.84 C76.09 391.02 80.27 389.22 84.45 389.22 C96.46 389.22 108.48 389.31 120.49 389.52 C127.68 389.64 134.88 394.34 142.07 395.19 C151.94 396.36 161.82 397.37 171.7 397.37 C192.67 397.37 213.63 394.9 234.6 389.37"/>
<path d="M33 397.66 C37.1 398.51 41.2 398.54 45.3 398.54 C49.93 398.54 54.57 396.52 59.21 395.48 C63.44 394.53 67.68 393.59 71.91 392.57 C76.09 391.56 80.27 389.37 84.45 389.37 C96.46 389.37 108.48 398.25 120.49 398.25 C137.56 398.25 154.63 398.01 171.7 397.66 C192.67 397.24 213.63 393.67 234.6 389.66"/>
<path d="M33 400.57 C50.15 407.88 67.3 410.61 84.45 410.61 C96.46 410.61 108.48 404 120.49 403.48 C137.56 402.75 154.63 402.32 171.7 402.32 C192.67 402.32 213.63 405.92 234.6 410.32"/>
<path d="M33 400.86 C50.15 407.94 67.3 410.61 84.45 410.61 C96.46 410.61 108.48 404.11 120.49 403.77 C137.56 403.3 154.63 403.05 171.7 403.05 C192.67 403.05 213.63 406.47 234.6 410.47"/>
<path d="M33 401.16 C50.15 408.11 67.3 410.76 84.45 410.76 C96.46 410.76 108.48 404.21 120.49 404.07 C137.56 403.87 154.63 403.77 171.7 403.77 C192.67 403.77 213.63 407.01 234.6 410.61"/>
<path d="M33 397.23 C39.45 397.23 45.9 396.75 52.35 396.21 C58.87 395.66 65.39 393.57 71.91 392.13 C76.09 391.21 80.27 389.22 84.45 389.22 C96.46 389.22 108.48 398.25 120.49 398.25 C137.56 398.25 154.63 398.01 171.7 397.66 C192.67 397.24 213.63 393.6 234.6 389.52"/>
</g>
</g>
<line x1="84.45" y1="367.4" x2="84.45" y2="512.9" stroke="#22801a" stroke-width="1.1" stroke-dasharray="2.9 2"/>
<line x1="120.49" y1="367.4" x2="120.49" y2="512.9" stroke="#22801a" stroke-width="1.1" stroke-dasharray="2.9 2"/>
<line x1="171.7" y1="367.4" x2="171.7" y2="512.9" stroke="#22801a" stroke-width="1.1" stroke-dasharray="2.9 2"/>
<line x1="33" y1="440.15" x2="234.6" y2="440.15" stroke="#22801a" stroke-width="1.1" stroke-dasharray="3.3 2.4"/>
<rect x="33" y="367.4" width="201.6" height="145.5" fill="none" stroke="#000" stroke-width="1.75"/>
<line x1="28.8" y1="512.9" x2="33" y2="512.9" stroke="#000" stroke-width="1.1"/>
<line x1="31" y1="505.62" x2="33" y2="505.62" stroke="#000" stroke-width="1.1"/>
<line x1="28.8" y1="498.35" x2="33" y2="498.35" stroke="#000" stroke-width="1.1"/>
<line x1="31" y1="491.07" x2="33" y2="491.07" stroke="#000" stroke-width="1.1"/>
<line x1="28.8" y1="483.8" x2="33" y2="483.8" stroke="#000" stroke-width="1.1"/>
<line x1="31" y1="476.52" x2="33" y2="476.52" stroke="#000" stroke-width="1.1"/>
<line x1="28.8" y1="469.25" x2="33" y2="469.25" stroke="#000" stroke-width="1.1"/>
<line x1="31" y1="461.97" x2="33" y2="461.97" stroke="#000" stroke-width="1.1"/>
<line x1="28.8" y1="454.7" x2="33" y2="454.7" stroke="#000" stroke-width="1.1"/>
<line x1="31" y1="447.42" x2="33" y2="447.42" stroke="#000" stroke-width="1.1"/>
<line x1="28.8" y1="440.15" x2="33" y2="440.15" stroke="#000" stroke-width="1.1"/>
<line x1="31" y1="432.88" x2="33" y2="432.88" stroke="#000" stroke-width="1.1"/>
<line x1="28.8" y1="425.6" x2="33" y2="425.6" stroke="#000" stroke-width="1.1"/>
<line x1="31" y1="418.32" x2="33" y2="418.32" stroke="#000" stroke-width="1.1"/>
<line x1="28.8" y1="411.05" x2="33" y2="411.05" stroke="#000" stroke-width="1.1"/>
<line x1="31" y1="403.77" x2="33" y2="403.77" stroke="#000" stroke-width="1.1"/>
<line x1="28.8" y1="396.5" x2="33" y2="396.5" stroke="#000" stroke-width="1.1"/>
<line x1="31" y1="389.22" x2="33" y2="389.22" stroke="#000" stroke-width="1.1"/>
<line x1="28.8" y1="381.95" x2="33" y2="381.95" stroke="#000" stroke-width="1.1"/>
<line x1="31" y1="374.67" x2="33" y2="374.67" stroke="#000" stroke-width="1.1"/>
<line x1="28.8" y1="367.4" x2="33" y2="367.4" stroke="#000" stroke-width="1.1"/>
<text font-family='"Liberation Serif", serif' font-size="8.3" font-weight="bold" font-style="normal" text-anchor="end" fill="#000" transform="translate(26.7 515.8)" stroke="#000" stroke-width="0.3" >&#8722;5</text>
<text font-family='"Liberation Serif", serif' font-size="8.3" font-weight="bold" font-style="normal" text-anchor="end" fill="#000" transform="translate(26.7 501.25)" stroke="#000" stroke-width="0.3" >&#8722;4</text>
<text font-family='"Liberation Serif", serif' font-size="8.3" font-weight="bold" font-style="normal" text-anchor="end" fill="#000" transform="translate(26.7 486.7)" stroke="#000" stroke-width="0.3" >&#8722;3</text>
<text font-family='"Liberation Serif", serif' font-size="8.3" font-weight="bold" font-style="normal" text-anchor="end" fill="#000" transform="translate(26.7 472.15)" stroke="#000" stroke-width="0.3" >&#8722;2</text>
<text font-family='"Liberation Serif", serif' font-size="8.3" font-weight="bold" font-style="normal" text-anchor="end" fill="#000" transform="translate(26.7 457.6)" stroke="#000" stroke-width="0.3" >&#8722;1</text>
<text font-family='"Liberation Serif", serif' font-size="8.3" font-weight="bold" font-style="normal" text-anchor="end" fill="#000" transform="translate(26.7 443.05)" stroke="#000" stroke-width="0.3" >0</text>
<text font-family='"Liberation Serif", serif' font-size="8.3" font-weight="bold" font-style="normal" text-anchor="end" fill="#000" transform="translate(26.7 428.5)" stroke="#000" stroke-width="0.3" >1</text>
<text font-family='"Liberation Serif", serif' font-size="8.3" font-weight="bold" font-style="normal" text-anchor="end" fill="#000" transform="translate(26.7 413.95)" stroke="#000" stroke-width="0.3" >2</text>
<text font-family='"Liberation Serif", serif' font-size="8.3" font-weight="bold" font-style="normal" text-anchor="end" fill="#000" transform="translate(26.7 399.4)" stroke="#000" stroke-width="0.3" >3</text>
<text font-family='"Liberation Serif", serif' font-size="8.3" font-weight="bold" font-style="normal" text-anchor="end" fill="#000" transform="translate(26.7 384.85)" stroke="#000" stroke-width="0.3" >4</text>
<text font-family='"Liberation Serif", serif' font-size="8.3" font-weight="bold" font-style="normal" text-anchor="end" fill="#000" transform="translate(26.7 370.3)" stroke="#000" stroke-width="0.3" >5</text>
<text font-family='"Liberation Sans", sans-serif' font-size="7.4" font-weight="bold" font-style="normal" text-anchor="middle" fill="#000" transform="translate(33.7 521.1)" stroke="#000" stroke-width="0.3" >X</text>
<text font-family='"Liberation Sans", sans-serif' font-size="7.4" font-weight="bold" font-style="normal" text-anchor="middle" fill="#000" transform="translate(83.5 521.1)" stroke="#000" stroke-width="0.3" >R</text>
<text font-family='"Liberation Sans", sans-serif' font-size="7.4" font-weight="bold" font-style="normal" text-anchor="middle" fill="#000" transform="translate(121.2 521.1)" stroke="#000" stroke-width="0.3" >M</text>
<text font-family='"Liberation Sans", sans-serif' font-size="7.4" font-weight="bold" font-style="normal" text-anchor="middle" fill="#000" transform="translate(172.1 521.1)" stroke="#000" stroke-width="0.3" >G</text>
<text font-family='"Liberation Sans", sans-serif' font-size="7.4" font-weight="bold" font-style="normal" text-anchor="middle" fill="#000" transform="translate(234.4 521.1)" stroke="#000" stroke-width="0.3" >R</text>
<text font-family='"Liberation Serif", serif' font-size="8.2" font-weight="bold" font-style="italic" text-anchor="middle" fill="#000" transform="translate(124.6 530) scale(1.075 1)" stroke="#000" stroke-width="0.3" >k-points</text>
<text font-family='"Liberation Sans", sans-serif' font-size="8.3" font-weight="bold" font-style="normal" text-anchor="middle" fill="#000" transform="translate(12.5 438.75) rotate(-90) scale(0.900 1)" stroke="#000" stroke-width="0.33" >Energy (eV)</text>
<line x1="84.45" y1="410.9" x2="171.7" y2="440.15" stroke="#22801a" stroke-width="1.15"/>
<polygon points="84.45,410.9 90.39,415.22 91.78,411.04" fill="#22801a"/>
<polygon points="171.7,440.15 165.76,435.84 164.36,440.01" fill="#22801a"/>
<text font-family='"Liberation Sans", sans-serif' font-size="5.8" font-weight="bold" font-style="normal" text-anchor="start" fill="#22801a" transform="translate(125.8 418.1) scale(1.079 1)" stroke="#22801a" stroke-width="0.3" >E<tspan font-size="4.2" dy="1.6">g</tspan><tspan dy="-1.6">= 2.014 eV</tspan></text>
<text font-family='"Liberation Sans", sans-serif' font-size="8.2" font-weight="bold" font-style="normal" text-anchor="start" fill="#000" transform="translate(212.6 363.4) scale(1.057 1)" stroke="#000" stroke-width="0.3" >(c) Rb<tspan font-size="5.6" dy="1.6">2</tspan><tspan dy="-1.6">LiBiI<tspan font-size="5.6" dy="1.6">6</tspan><tspan dy="-1.6"></tspan></tspan></text>
<g fill="none" stroke="#ff1a0d" stroke-width="1.05">
<path d="M242.6 29.3 C244.67 30 250.22 32.3 255 33.5 C259.78 34.7 268.25 35.5 271.3 36.5 C274.35 37.5 272.85 38.58 273.3 39.5 C273.75 40.42 273.12 40.9 274 42 C274.88 43.1 278.93 44.85 278.6 46.1 C278.27 47.35 274.27 48.42 272 49.5 C269.73 50.58 267.83 51.18 265 52.6 C262.17 54.02 258.73 56 255 58 C251.27 60 244.67 63.5 242.6 64.6"/>
<path d="M242.6 79 C243 79.58 243.47 81.58 245 82.5 C246.53 83.42 245.42 83.82 251.8 84.5 C258.18 85.18 268.43 85.73 283.3 86.6 C298.17 87.47 324.38 88.83 341 89.7 C357.62 90.57 373.35 91.1 383 91.8 C392.65 92.5 398.9 93.12 398.9 93.9 C398.9 94.68 391.32 95.45 383 96.5 C374.68 97.55 356.2 98.58 349 100.2 C341.8 101.82 339.8 104.18 339.8 106.2 C339.8 108.22 353.17 110.55 349 112.3 C344.83 114.05 328.77 115.38 314.8 116.7 C300.83 118.02 275.05 119.25 265.2 120.2 C255.35 121.15 256.18 121.67 255.7 122.4 C255.22 123.13 257.07 123.63 262.3 124.6 C267.53 125.57 281.27 127.15 287.1 128.2 C292.93 129.25 297.3 129.92 297.3 130.9 C297.3 131.88 293.67 132.35 287.1 134.1 C280.53 135.85 265.32 139.38 257.9 141.4 C250.48 143.42 245.15 145.4 242.6 146.2"/>
</g>
<line x1="243" y1="86.35" x2="444.6" y2="86.35" stroke="#22801a" stroke-width="1.1" stroke-dasharray="3.3 2.4"/>
<rect x="243" y="12.9" width="201.6" height="146.9" fill="none" stroke="#000" stroke-width="1.75"/>
<line x1="238.8" y1="159.8" x2="243" y2="159.8" stroke="#000" stroke-width="1.1"/>
<line x1="241" y1="152.46" x2="243" y2="152.46" stroke="#000" stroke-width="1.1"/>
<line x1="238.8" y1="145.11" x2="243" y2="145.11" stroke="#000" stroke-width="1.1"/>
<line x1="241" y1="137.76" x2="243" y2="137.76" stroke="#000" stroke-width="1.1"/>
<line x1="238.8" y1="130.42" x2="243" y2="130.42" stroke="#000" stroke-width="1.1"/>
<line x1="241" y1="123.08" x2="243" y2="123.08" stroke="#000" stroke-width="1.1"/>
<line x1="238.8" y1="115.73" x2="243" y2="115.73" stroke="#000" stroke-width="1.1"/>
<line x1="241" y1="108.39" x2="243" y2="108.39" stroke="#000" stroke-width="1.1"/>
<line x1="238.8" y1="101.04" x2="243" y2="101.04" stroke="#000" stroke-width="1.1"/>
<line x1="241" y1="93.7" x2="243" y2="93.7" stroke="#000" stroke-width="1.1"/>
<line x1="238.8" y1="86.35" x2="243" y2="86.35" stroke="#000" stroke-width="1.1"/>
<line x1="241" y1="79.01" x2="243" y2="79.01" stroke="#000" stroke-width="1.1"/>
<line x1="238.8" y1="71.66" x2="243" y2="71.66" stroke="#000" stroke-width="1.1"/>
<line x1="241" y1="64.31" x2="243" y2="64.31" stroke="#000" stroke-width="1.1"/>
<line x1="238.8" y1="56.97" x2="243" y2="56.97" stroke="#000" stroke-width="1.1"/>
<line x1="241" y1="49.62" x2="243" y2="49.62" stroke="#000" stroke-width="1.1"/>
<line x1="238.8" y1="42.28" x2="243" y2="42.28" stroke="#000" stroke-width="1.1"/>
<line x1="241" y1="34.94" x2="243" y2="34.94" stroke="#000" stroke-width="1.1"/>
<line x1="238.8" y1="27.59" x2="243" y2="27.59" stroke="#000" stroke-width="1.1"/>
<line x1="241" y1="20.25" x2="243" y2="20.25" stroke="#000" stroke-width="1.1"/>
<line x1="238.8" y1="12.9" x2="243" y2="12.9" stroke="#000" stroke-width="1.1"/>
<line x1="243" y1="159.8" x2="243" y2="162.4" stroke="#000" stroke-width="1.1"/>
<line x1="263.16" y1="159.8" x2="263.16" y2="161.3" stroke="#000" stroke-width="1.1"/>
<line x1="283.32" y1="159.8" x2="283.32" y2="162.4" stroke="#000" stroke-width="1.1"/>
<line x1="303.48" y1="159.8" x2="303.48" y2="161.3" stroke="#000" stroke-width="1.1"/>
<line x1="323.64" y1="159.8" x2="323.64" y2="162.4" stroke="#000" stroke-width="1.1"/>
<line x1="343.8" y1="159.8" x2="343.8" y2="161.3" stroke="#000" stroke-width="1.1"/>
<line x1="363.96" y1="159.8" x2="363.96" y2="162.4" stroke="#000" stroke-width="1.1"/>
<line x1="384.12" y1="159.8" x2="384.12" y2="161.3" stroke="#000" stroke-width="1.1"/>
<line x1="404.28" y1="159.8" x2="404.28" y2="162.4" stroke="#000" stroke-width="1.1"/>
<line x1="424.44" y1="159.8" x2="424.44" y2="161.3" stroke="#000" stroke-width="1.1"/>
<line x1="444.6" y1="159.8" x2="444.6" y2="162.4" stroke="#000" stroke-width="1.1"/>
<text font-family='"Liberation Sans", sans-serif' font-size="8" font-weight="bold" font-style="normal" text-anchor="middle" fill="#000" transform="translate(242.5 171)" stroke="#000" stroke-width="0.3" >0</text>
<text font-family='"Liberation Sans", sans-serif' font-size="8" font-weight="bold" font-style="normal" text-anchor="middle" fill="#000" transform="translate(282.8 171)" stroke="#000" stroke-width="0.3" >20</text>
<text font-family='"Liberation Sans", sans-serif' font-size="8" font-weight="bold" font-style="normal" text-anchor="middle" fill="#000" transform="translate(323.1 171)" stroke="#000" stroke-width="0.3" >40</text>
<text font-family='"Liberation Sans", sans-serif' font-size="8" font-weight="bold" font-style="normal" text-anchor="middle" fill="#000" transform="translate(363.4 171)" stroke="#000" stroke-width="0.3" >60</text>
<text font-family='"Liberation Sans", sans-serif' font-size="8" font-weight="bold" font-style="normal" text-anchor="middle" fill="#000" transform="translate(403.7 171)" stroke="#000" stroke-width="0.3" >80</text>
<text font-family='"Liberation Sans", sans-serif' font-size="8" font-weight="bold" font-style="normal" text-anchor="middle" fill="#000" transform="translate(445.1 171)" stroke="#000" stroke-width="0.3" >100</text>
<text font-family='"Liberation Sans", sans-serif' font-size="8" font-weight="bold" font-style="normal" text-anchor="middle" fill="#000" transform="translate(353.35 180.9) scale(1.076 1)" stroke="#000" stroke-width="0.3" >Density of states</text>
<text font-family='"Liberation Sans", sans-serif' font-size="6.4" font-weight="bold" font-style="normal" text-anchor="start" fill="#22801a" transform="translate(435 82.3)" stroke="#22801a" stroke-width="0.3" >E<tspan font-size="4.2" dy="1.3">F</tspan><tspan dy="-1.3"></tspan></text>
<g fill="none" stroke="#1500c8" stroke-width="1.05">
<path d="M245.6 206.9 C247.08 207.42 250.08 208.93 254.5 210 C258.92 211.07 267.97 212.4 272.1 213.3 C276.23 214.2 277.9 214.6 279.3 215.4 C280.7 216.2 280.5 216.98 280.5 218.1 C280.5 219.22 281.5 220.37 279.3 222.1 C277.1 223.83 270.63 226.62 267.3 228.5 C263.97 230.38 262.25 231.78 259.3 233.4 C256.35 235.02 251.88 236.87 249.6 238.2 C247.32 239.53 246.27 240.87 245.6 241.4"/>
<path d="M245.6 255.8 C246.53 256.33 245.45 257.87 251.2 259 C256.95 260.13 262.27 261.52 280.1 262.6 C297.93 263.68 338.62 264.67 358.2 265.5 C377.78 266.33 389.27 266.93 397.6 267.6 C405.93 268.27 409.95 268.62 408.2 269.5 C406.45 270.38 394.98 271.9 387.1 272.9 C379.22 273.9 366.15 274.32 360.9 275.5 C355.65 276.68 356.27 278.38 355.6 280 C354.93 281.62 357.77 283.98 356.9 285.2 C356.03 286.42 358.93 286.42 350.4 287.3 C341.87 288.18 320.6 289.4 305.7 290.5 C290.8 291.6 269.77 292.93 261 293.9 C252.23 294.87 253.1 295.65 253.1 296.3 C253.1 296.95 254.43 297.02 261 297.8 C267.57 298.58 285.05 299.9 292.5 301 C299.95 302.1 305.7 303.32 305.7 304.4 C305.7 305.48 299.07 306.1 292.5 307.5 C285.93 308.9 274.12 311.03 266.3 312.8 C258.48 314.57 249.05 317.22 245.6 318.1"/>
</g>
<line x1="245.5" y1="262.9" x2="447.2" y2="262.9" stroke="#22801a" stroke-width="1.1" stroke-dasharray="3.3 2.4"/>
<rect x="245.5" y="193.1" width="201.7" height="139.6" fill="none" stroke="#000" stroke-width="1.75"/>
<line x1="241.3" y1="332.7" x2="245.5" y2="332.7" stroke="#000" stroke-width="1.1"/>
<line x1="243.5" y1="325.72" x2="245.5" y2="325.72" stroke="#000" stroke-width="1.1"/>
<line x1="241.3" y1="318.74" x2="245.5" y2="318.74" stroke="#000" stroke-width="1.1"/>
<line x1="243.5" y1="311.76" x2="245.5" y2="311.76" stroke="#000" stroke-width="1.1"/>
<line x1="241.3" y1="304.78" x2="245.5" y2="304.78" stroke="#000" stroke-width="1.1"/>
<line x1="243.5" y1="297.8" x2="245.5" y2="297.8" stroke="#000" stroke-width="1.1"/>
<line x1="241.3" y1="290.82" x2="245.5" y2="290.82" stroke="#000" stroke-width="1.1"/>
<line x1="243.5" y1="283.84" x2="245.5" y2="283.84" stroke="#000" stroke-width="1.1"/>
<line x1="241.3" y1="276.86" x2="245.5" y2="276.86" stroke="#000" stroke-width="1.1"/>
<line x1="243.5" y1="269.88" x2="245.5" y2="269.88" stroke="#000" stroke-width="1.1"/>
<line x1="241.3" y1="262.9" x2="245.5" y2="262.9" stroke="#000" stroke-width="1.1"/>
<line x1="243.5" y1="255.92" x2="245.5" y2="255.92" stroke="#000" stroke-width="1.1"/>
<line x1="241.3" y1="248.94" x2="245.5" y2="248.94" stroke="#000" stroke-width="1.1"/>
<line x1="243.5" y1="241.96" x2="245.5" y2="241.96" stroke="#000" stroke-width="1.1"/>
<line x1="241.3" y1="234.98" x2="245.5" y2="234.98" stroke="#000" stroke-width="1.1"/>
<line x1="243.5" y1="228" x2="245.5" y2="228" stroke="#000" stroke-width="1.1"/>
<line x1="241.3" y1="221.02" x2="245.5" y2="221.02" stroke="#000" stroke-width="1.1"/>
<line x1="243.5" y1="214.04" x2="245.5" y2="214.04" stroke="#000" stroke-width="1.1"/>
<line x1="241.3" y1="207.06" x2="245.5" y2="207.06" stroke="#000" stroke-width="1.1"/>
<line x1="243.5" y1="200.08" x2="245.5" y2="200.08" stroke="#000" stroke-width="1.1"/>
<line x1="241.3" y1="193.1" x2="245.5" y2="193.1" stroke="#000" stroke-width="1.1"/>
<line x1="245.5" y1="332.7" x2="245.5" y2="335.3" stroke="#000" stroke-width="1.1"/>
<line x1="265.67" y1="332.7" x2="265.67" y2="334.2" stroke="#000" stroke-width="1.1"/>
<line x1="285.84" y1="332.7" x2="285.84" y2="335.3" stroke="#000" stroke-width="1.1"/>
<line x1="306.01" y1="332.7" x2="306.01" y2="334.2" stroke="#000" stroke-width="1.1"/>
<line x1="326.18" y1="332.7" x2="326.18" y2="335.3" stroke="#000" stroke-width="1.1"/>
<line x1="346.35" y1="332.7" x2="346.35" y2="334.2" stroke="#000" stroke-width="1.1"/>
<line x1="366.52" y1="332.7" x2="366.52" y2="335.3" stroke="#000" stroke-width="1.1"/>
<line x1="386.69" y1="332.7" x2="386.69" y2="334.2" stroke="#000" stroke-width="1.1"/>
<line x1="406.86" y1="332.7" x2="406.86" y2="335.3" stroke="#000" stroke-width="1.1"/>
<line x1="427.03" y1="332.7" x2="427.03" y2="334.2" stroke="#000" stroke-width="1.1"/>
<line x1="447.2" y1="332.7" x2="447.2" y2="335.3" stroke="#000" stroke-width="1.1"/>
<text font-family='"Liberation Sans", sans-serif' font-size="8" font-weight="bold" font-style="normal" text-anchor="middle" fill="#000" transform="translate(245.4 344.5)" stroke="#000" stroke-width="0.3" >0</text>
<text font-family='"Liberation Sans", sans-serif' font-size="8" font-weight="bold" font-style="normal" text-anchor="middle" fill="#000" transform="translate(285.6 344.5)" stroke="#000" stroke-width="0.3" >20</text>
<text font-family='"Liberation Sans", sans-serif' font-size="8" font-weight="bold" font-style="normal" text-anchor="middle" fill="#000" transform="translate(325.8 344.5)" stroke="#000" stroke-width="0.3" >40</text>
<text font-family='"Liberation Sans", sans-serif' font-size="8" font-weight="bold" font-style="normal" text-anchor="middle" fill="#000" transform="translate(366 344.5)" stroke="#000" stroke-width="0.3" >60</text>
<text font-family='"Liberation Sans", sans-serif' font-size="8" font-weight="bold" font-style="normal" text-anchor="middle" fill="#000" transform="translate(406.2 344.5)" stroke="#000" stroke-width="0.3" >80</text>
<text font-family='"Liberation Sans", sans-serif' font-size="8" font-weight="bold" font-style="normal" text-anchor="middle" fill="#000" transform="translate(447.5 344.5)" stroke="#000" stroke-width="0.3" >100</text>
<text font-family='"Liberation Sans", sans-serif' font-size="8" font-weight="bold" font-style="normal" text-anchor="middle" fill="#000" transform="translate(354.6 351.5) scale(1.078 1)" stroke="#000" stroke-width="0.3" >Density of states</text>
<text font-family='"Liberation Sans", sans-serif' font-size="6.4" font-weight="bold" font-style="normal" text-anchor="start" fill="#22801a" transform="translate(438 259.9)" stroke="#22801a" stroke-width="0.3" >E<tspan font-size="4.2" dy="1.3">F</tspan><tspan dy="-1.3"></tspan></text>
<g fill="none" stroke="#8c0f0a" stroke-width="1.05">
<path d="M244.8 381.9 C246.67 382.57 250.63 384.57 256 385.9 C261.37 387.23 272.98 388.7 277 389.9 C281.02 391.1 279.85 391.77 280.1 393.1 C280.35 394.43 280.63 396.17 278.5 397.9 C276.37 399.63 270.77 401.48 267.3 403.5 C263.83 405.52 260.65 408.25 257.7 410 C254.75 411.75 251.75 412.8 249.6 414 C247.45 415.2 245.6 416.67 244.8 417.2"/>
<path d="M244.8 433.3 C246.13 433.97 245.57 436.23 252.8 437.3 C260.03 438.37 270.63 438.82 288.2 439.7 C305.77 440.58 339.97 441.72 358.2 442.6 C376.43 443.48 388.75 444.17 397.6 445 C406.45 445.83 412.17 446.6 411.3 447.6 C410.43 448.6 400.15 450.08 392.4 451 C384.65 451.92 370.28 452 364.8 453.1 C359.32 454.2 360.6 455.98 359.5 457.6 C358.4 459.22 359.72 461.62 358.2 462.8 C356.68 463.98 359.15 463.82 350.4 464.7 C341.65 465.58 321.03 466.97 305.7 468.1 C290.37 469.23 267.52 470.5 258.4 471.5 C249.28 472.5 251 473.35 251 474.1 C251 474.85 251.48 475.03 258.4 476 C265.32 476.97 284.4 478.68 292.5 479.9 C300.6 481.12 307 482.2 307 483.3 C307 484.4 300.17 484.97 292.5 486.5 C284.83 488.03 268.95 490.75 261 492.5 C253.05 494.25 247.5 496.25 244.8 497"/>
</g>
<line x1="244.3" y1="440.5" x2="445.2" y2="440.5" stroke="#22801a" stroke-width="1.1" stroke-dasharray="3.3 2.4"/>
<rect x="244.3" y="367.8" width="200.9" height="145.4" fill="none" stroke="#000" stroke-width="1.75"/>
<line x1="240.1" y1="513.2" x2="244.3" y2="513.2" stroke="#000" stroke-width="1.1"/>
<line x1="242.3" y1="505.93" x2="244.3" y2="505.93" stroke="#000" stroke-width="1.1"/>
<line x1="240.1" y1="498.66" x2="244.3" y2="498.66" stroke="#000" stroke-width="1.1"/>
<line x1="242.3" y1="491.39" x2="244.3" y2="491.39" stroke="#000" stroke-width="1.1"/>
<line x1="240.1" y1="484.12" x2="244.3" y2="484.12" stroke="#000" stroke-width="1.1"/>
<line x1="242.3" y1="476.85" x2="244.3" y2="476.85" stroke="#000" stroke-width="1.1"/>
<line x1="240.1" y1="469.58" x2="244.3" y2="469.58" stroke="#000" stroke-width="1.1"/>
<line x1="242.3" y1="462.31" x2="244.3" y2="462.31" stroke="#000" stroke-width="1.1"/>
<line x1="240.1" y1="455.04" x2="244.3" y2="455.04" stroke="#000" stroke-width="1.1"/>
<line x1="242.3" y1="447.77" x2="244.3" y2="447.77" stroke="#000" stroke-width="1.1"/>
<line x1="240.1" y1="440.5" x2="244.3" y2="440.5" stroke="#000" stroke-width="1.1"/>
<line x1="242.3" y1="433.23" x2="244.3" y2="433.23" stroke="#000" stroke-width="1.1"/>
<line x1="240.1" y1="425.96" x2="244.3" y2="425.96" stroke="#000" stroke-width="1.1"/>
<line x1="242.3" y1="418.69" x2="244.3" y2="418.69" stroke="#000" stroke-width="1.1"/>
<line x1="240.1" y1="411.42" x2="244.3" y2="411.42" stroke="#000" stroke-width="1.1"/>
<line x1="242.3" y1="404.15" x2="244.3" y2="404.15" stroke="#000" stroke-width="1.1"/>
<line x1="240.1" y1="396.88" x2="244.3" y2="396.88" stroke="#000" stroke-width="1.1"/>
<line x1="242.3" y1="389.61" x2="244.3" y2="389.61" stroke="#000" stroke-width="1.1"/>
<line x1="240.1" y1="382.34" x2="244.3" y2="382.34" stroke="#000" stroke-width="1.1"/>
<line x1="242.3" y1="375.07" x2="244.3" y2="375.07" stroke="#000" stroke-width="1.1"/>
<line x1="240.1" y1="367.8" x2="244.3" y2="367.8" stroke="#000" stroke-width="1.1"/>
<line x1="244.3" y1="513.2" x2="244.3" y2="515.8" stroke="#000" stroke-width="1.1"/>
<line x1="264.39" y1="513.2" x2="264.39" y2="514.7" stroke="#000" stroke-width="1.1"/>
<line x1="284.48" y1="513.2" x2="284.48" y2="515.8" stroke="#000" stroke-width="1.1"/>
<line x1="304.57" y1="513.2" x2="304.57" y2="514.7" stroke="#000" stroke-width="1.1"/>
<line x1="324.66" y1="513.2" x2="324.66" y2="515.8" stroke="#000" stroke-width="1.1"/>
<line x1="344.75" y1="513.2" x2="344.75" y2="514.7" stroke="#000" stroke-width="1.1"/>
<line x1="364.84" y1="513.2" x2="364.84" y2="515.8" stroke="#000" stroke-width="1.1"/>
<line x1="384.93" y1="513.2" x2="384.93" y2="514.7" stroke="#000" stroke-width="1.1"/>
<line x1="405.02" y1="513.2" x2="405.02" y2="515.8" stroke="#000" stroke-width="1.1"/>
<line x1="425.11" y1="513.2" x2="425.11" y2="514.7" stroke="#000" stroke-width="1.1"/>
<line x1="445.2" y1="513.2" x2="445.2" y2="515.8" stroke="#000" stroke-width="1.1"/>
<text font-family='"Liberation Sans", sans-serif' font-size="8" font-weight="bold" font-style="normal" text-anchor="middle" fill="#000" transform="translate(244.6 524.5)" stroke="#000" stroke-width="0.3" >0</text>
<text font-family='"Liberation Sans", sans-serif' font-size="8" font-weight="bold" font-style="normal" text-anchor="middle" fill="#000" transform="translate(284.9 524.5)" stroke="#000" stroke-width="0.3" >20</text>
<text font-family='"Liberation Sans", sans-serif' font-size="8" font-weight="bold" font-style="normal" text-anchor="middle" fill="#000" transform="translate(325.2 524.5)" stroke="#000" stroke-width="0.3" >40</text>
<text font-family='"Liberation Sans", sans-serif' font-size="8" font-weight="bold" font-style="normal" text-anchor="middle" fill="#000" transform="translate(365.5 524.5)" stroke="#000" stroke-width="0.3" >60</text>
<text font-family='"Liberation Sans", sans-serif' font-size="8" font-weight="bold" font-style="normal" text-anchor="middle" fill="#000" transform="translate(405.8 524.5)" stroke="#000" stroke-width="0.3" >80</text>
<text font-family='"Liberation Sans", sans-serif' font-size="8" font-weight="bold" font-style="normal" text-anchor="middle" fill="#000" transform="translate(447.2 524.5)" stroke="#000" stroke-width="0.3" >100</text>
<text font-family='"Liberation Sans", sans-serif' font-size="8" font-weight="bold" font-style="normal" text-anchor="middle" fill="#000" transform="translate(346.6 531) scale(1.078 1)" stroke="#000" stroke-width="0.3" >Density of states</text>
<text font-family='"Liberation Sans", sans-serif' font-size="6.4" font-weight="bold" font-style="normal" text-anchor="start" fill="#22801a" transform="translate(436 435.6)" stroke="#22801a" stroke-width="0.3" >E<tspan font-size="4.2" dy="1.3">F</tspan><tspan dy="-1.3"></tspan></text>
<line x1="445.2" y1="368.7" x2="445.2" y2="512.3" stroke="#fff" stroke-width="2"/>
<line x1="445.4" y1="367.8" x2="445.4" y2="513.2" stroke="#8a8a8a" stroke-width="1"/>
<rect x="446" y="0" width="239" height="181" fill="#fff"/>
<rect x="448.3" y="181" width="237" height="176" fill="#fff"/>
<rect x="446.3" y="357" width="239" height="182" fill="#fff"/>
<clipPath id="r12"><rect x="472.1" y="12.8" width="208.4" height="145"/></clipPath>
<g clip-path="url(#r12)">
<g fill="none" stroke="#ff1a0d" stroke-width="1.65" stroke-linejoin="round">
<path d="M472.1 129.96 C486.41 127.24 500.72 126.19 515.03 126.19 C532.47 126.19 549.9 133.44 567.34 133.44 C587.62 133.44 607.91 129.23 628.19 129.23 C638.4 129.23 648.61 130.25 658.83 130.25 C666.05 130.25 673.28 129.81 680.5 129.23"/>
<path d="M472.1 129.96 C486.41 134.46 500.72 138.08 515.03 138.08 C532.47 138.08 549.9 134.46 567.34 133.44 C587.62 132.26 607.91 131.34 628.19 130.83 C638.4 130.57 648.61 130.25 658.83 130.25 C666.05 130.25 673.28 131.88 680.5 133.44"/>
</g>
<g fill="none" stroke="#ff1a0d" stroke-width="1.65" stroke-linejoin="round">
<path d="M472.1 91.68 C486.41 91.68 500.72 91.29 515.03 90.81 C532.47 90.23 549.9 85.3 567.34 85.3 C587.62 85.3 607.91 89.07 628.19 89.07 C638.4 89.07 648.61 88.77 658.83 88.49 C666.05 88.29 673.28 87.9 680.5 87.47"/>
<path d="M472.1 90.09 C486.41 92.82 500.72 95.45 515.03 95.45 C532.47 95.45 549.9 94.29 567.34 94.29 C587.62 94.29 607.91 94.29 628.19 94.29 C638.4 94.29 648.61 90.9 658.83 90.37 C666.05 90 673.28 89.65 680.5 89.65"/>
<path d="M472.1 95.45 C486.41 92.72 500.72 90.81 515.03 90.81 C532.47 90.81 549.9 94.36 567.34 94.73 C587.62 95.15 607.91 95.45 628.19 95.45 C638.4 95.45 648.61 94.72 658.83 94.29 C666.05 93.99 673.28 93.64 680.5 93.27"/>
<path d="M472.1 96.17 C486.41 95.79 500.72 95.45 515.03 95.45 C532.47 95.45 549.9 95.65 567.34 95.74 C587.62 95.84 607.91 95.93 628.19 96.03 C638.4 96.08 648.61 96.17 658.83 96.17 C666.05 96.17 673.28 95.81 680.5 95.45"/>
<path d="M472.1 98.49 C486.41 102.48 500.72 104.58 515.03 104.58 C532.47 104.58 549.9 96.17 567.34 96.17 C587.62 96.17 607.91 101.25 628.19 101.25 C638.4 101.25 648.61 98.35 658.83 98.35 C666.05 98.35 673.28 98.45 680.5 99.07"/>
<path d="M472.1 100.81 C486.41 98.04 500.72 95.45 515.03 95.45 C532.47 95.45 549.9 96.07 567.34 96.9 C587.62 97.86 607.91 106.26 628.19 108.36 C638.4 109.41 648.61 110.67 658.83 110.67 C666.05 110.67 673.28 109.22 680.5 107.48"/>
<path d="M472.1 103.13 C486.41 104.84 500.72 106.42 515.03 107.78 C532.47 109.42 549.9 112.12 567.34 112.12 C587.62 112.12 607.91 99.51 628.19 99.51 C638.4 99.51 648.61 99.62 658.83 99.8 C666.05 99.93 673.28 100.59 680.5 101.25"/>
<path d="M472.1 110.82 C486.41 110.97 500.72 111.24 515.03 111.55 C532.47 111.92 549.9 112.57 567.34 113.14 C587.62 113.81 607.91 115.32 628.19 115.32 C638.4 115.32 648.61 111.4 658.83 111.4 C666.05 111.4 673.28 111.4 680.5 112.12"/>
<path d="M472.1 113.14 C486.41 113.14 500.72 113.14 515.03 113.14 C532.47 113.14 549.9 113.71 567.34 114.3 C587.62 114.98 607.91 118.8 628.19 118.8 C638.4 118.8 648.61 112.12 658.83 112.12 C666.05 112.12 673.28 112.62 680.5 114.3"/>
<path d="M472.1 93.27 C486.41 94.33 500.72 95.45 515.03 95.45 C532.47 95.45 549.9 95.45 567.34 95.45 C587.62 95.45 607.91 102.99 628.19 102.99 C638.4 102.99 648.61 100.38 658.83 100.38 C666.05 100.38 673.28 102.88 680.5 105.6"/>
<path d="M472.1 111.4 C486.41 109.38 500.72 107.78 515.03 107.78 C532.47 107.78 549.9 109.95 567.34 109.95 C587.62 109.95 607.91 109.23 628.19 109.23 C638.4 109.23 648.61 109.95 658.83 109.95 C666.05 109.95 673.28 109.95 680.5 109.95"/>
</g>
<g fill="none" stroke="#ff1a0d" stroke-width="1.65" stroke-linejoin="round">
<path d="M472.1 4.1 C486.41 11.43 500.72 13.52 515.03 13.52 C532.47 13.52 549.9 -8.95 567.34 -8.95 C587.62 -8.95 607.91 -8.95 628.19 -8.95 C638.4 -8.95 648.61 -8.95 658.83 -8.95 C666.05 -8.95 673.28 -8.95 680.5 -8.95"/>
<path d="M472.1 -23.45 C486.41 -23.45 500.72 -23.45 515.03 -23.45 C532.47 -23.45 549.9 -23.45 567.34 -23.45 C587.62 -23.45 607.91 19.33 628.19 19.33 C638.4 19.33 648.61 11.35 658.83 11.35 C666.05 11.35 673.28 12.49 680.5 14.98"/>
<path d="M472.1 28.75 C486.41 28.75 500.72 32.82 515.03 35.13 C532.47 37.94 549.9 44.41 567.34 44.41 C587.62 44.41 607.91 27.59 628.19 27.59 C638.4 27.59 648.61 28.46 658.83 28.46 C666.05 28.46 673.28 28.32 680.5 28.02"/>
<path d="M472.1 44.41 C477.45 41.94 482.8 39.5 488.15 38.47 C497.11 36.73 506.07 35.13 515.03 35.13 C532.47 35.13 549.9 44.99 567.34 44.99 C587.62 44.99 607.91 29.97 628.19 29.47 C638.4 29.22 648.61 29.04 658.83 29.04 C666.05 29.04 673.28 29.46 680.5 29.91"/>
<path d="M472.1 44.55 C477.45 43.48 482.8 42.38 488.15 41.22 C497.11 39.28 506.07 35.13 515.03 35.13 C532.47 35.13 549.9 50.06 567.34 50.06 C587.62 50.06 607.91 45.02 628.19 44.7 C638.4 44.54 648.61 44.6 658.83 44.41 C666.05 44.27 673.28 42.62 680.5 41.08"/>
<path d="M472.1 44.99 C486.41 52.32 500.72 58.19 515.03 58.19 C532.47 58.19 549.9 52.4 567.34 50.5 C587.62 48.29 607.91 45.87 628.19 45.28 C638.4 44.98 648.61 44.7 658.83 44.7 C666.05 44.7 673.28 46.94 680.5 49.05"/>
</g>
</g>
<line x1="515.03" y1="12.8" x2="515.03" y2="157.8" stroke="#22801a" stroke-width="1.1" stroke-dasharray="2.9 2"/>
<line x1="567.34" y1="12.8" x2="567.34" y2="157.8" stroke="#22801a" stroke-width="1.1" stroke-dasharray="2.9 2"/>
<line x1="628.19" y1="12.8" x2="628.19" y2="157.8" stroke="#22801a" stroke-width="1.1" stroke-dasharray="2.9 2"/>
<line x1="658.83" y1="12.8" x2="658.83" y2="157.8" stroke="#22801a" stroke-width="1.1" stroke-dasharray="2.9 2"/>
<line x1="472.1" y1="85.3" x2="680.5" y2="85.3" stroke="#22801a" stroke-width="1.1" stroke-dasharray="3.3 2.4"/>
<rect x="472.1" y="12.8" width="208.4" height="145" fill="none" stroke="#000" stroke-width="1.6"/>
<line x1="470.1" y1="157.8" x2="472.1" y2="157.8" stroke="#000" stroke-width="1"/>
<line x1="470.9" y1="150.55" x2="472.1" y2="150.55" stroke="#000" stroke-width="1"/>
<line x1="470.1" y1="143.3" x2="472.1" y2="143.3" stroke="#000" stroke-width="1"/>
<line x1="470.9" y1="136.05" x2="472.1" y2="136.05" stroke="#000" stroke-width="1"/>
<line x1="470.1" y1="128.8" x2="472.1" y2="128.8" stroke="#000" stroke-width="1"/>
<line x1="470.9" y1="121.55" x2="472.1" y2="121.55" stroke="#000" stroke-width="1"/>
<line x1="470.1" y1="114.3" x2="472.1" y2="114.3" stroke="#000" stroke-width="1"/>
<line x1="470.9" y1="107.05" x2="472.1" y2="107.05" stroke="#000" stroke-width="1"/>
<line x1="470.1" y1="99.8" x2="472.1" y2="99.8" stroke="#000" stroke-width="1"/>
<line x1="470.9" y1="92.55" x2="472.1" y2="92.55" stroke="#000" stroke-width="1"/>
<line x1="470.1" y1="85.3" x2="472.1" y2="85.3" stroke="#000" stroke-width="1"/>
<line x1="470.9" y1="78.05" x2="472.1" y2="78.05" stroke="#000" stroke-width="1"/>
<line x1="470.1" y1="70.8" x2="472.1" y2="70.8" stroke="#000" stroke-width="1"/>
<line x1="470.9" y1="63.55" x2="472.1" y2="63.55" stroke="#000" stroke-width="1"/>
<line x1="470.1" y1="56.3" x2="472.1" y2="56.3" stroke="#000" stroke-width="1"/>
<line x1="470.9" y1="49.05" x2="472.1" y2="49.05" stroke="#000" stroke-width="1"/>
<line x1="470.1" y1="41.8" x2="472.1" y2="41.8" stroke="#000" stroke-width="1"/>
<line x1="470.9" y1="34.55" x2="472.1" y2="34.55" stroke="#000" stroke-width="1"/>
<line x1="470.1" y1="27.3" x2="472.1" y2="27.3" stroke="#000" stroke-width="1"/>
<line x1="470.9" y1="20.05" x2="472.1" y2="20.05" stroke="#000" stroke-width="1"/>
<line x1="470.1" y1="12.8" x2="472.1" y2="12.8" stroke="#000" stroke-width="1"/>
<text font-family='"Liberation Serif", serif' font-size="10" font-weight="bold" font-style="normal" text-anchor="end" fill="#000" transform="translate(468.5 161.1)" stroke="#000" stroke-width="0.3" >&#8722;5</text>
<text font-family='"Liberation Serif", serif' font-size="10" font-weight="bold" font-style="normal" text-anchor="end" fill="#000" transform="translate(468.5 146.6)" stroke="#000" stroke-width="0.3" >&#8722;4</text>
<text font-family='"Liberation Serif", serif' font-size="10" font-weight="bold" font-style="normal" text-anchor="end" fill="#000" transform="translate(468.5 132.1)" stroke="#000" stroke-width="0.3" >&#8722;3</text>
<text font-family='"Liberation Serif", serif' font-size="10" font-weight="bold" font-style="normal" text-anchor="end" fill="#000" transform="translate(468.5 117.6)" stroke="#000" stroke-width="0.3" >&#8722;2</text>
<text font-family='"Liberation Serif", serif' font-size="10" font-weight="bold" font-style="normal" text-anchor="end" fill="#000" transform="translate(468.5 103.1)" stroke="#000" stroke-width="0.3" >&#8722;1</text>
<text font-family='"Liberation Serif", serif' font-size="10" font-weight="bold" font-style="normal" text-anchor="end" fill="#000" transform="translate(468.5 88.6)" stroke="#000" stroke-width="0.3" >0</text>
<text font-family='"Liberation Serif", serif' font-size="10" font-weight="bold" font-style="normal" text-anchor="end" fill="#000" transform="translate(468.5 74.1)" stroke="#000" stroke-width="0.3" >1</text>
<text font-family='"Liberation Serif", serif' font-size="10" font-weight="bold" font-style="normal" text-anchor="end" fill="#000" transform="translate(468.5 59.6)" stroke="#000" stroke-width="0.3" >2</text>
<text font-family='"Liberation Serif", serif' font-size="10" font-weight="bold" font-style="normal" text-anchor="end" fill="#000" transform="translate(468.5 45.1)" stroke="#000" stroke-width="0.3" >3</text>
<text font-family='"Liberation Serif", serif' font-size="10" font-weight="bold" font-style="normal" text-anchor="end" fill="#000" transform="translate(468.5 30.6)" stroke="#000" stroke-width="0.3" >4</text>
<text font-family='"Liberation Serif", serif' font-size="10" font-weight="bold" font-style="normal" text-anchor="end" fill="#000" transform="translate(468.5 16.1)" stroke="#000" stroke-width="0.3" >5</text>
<text font-family='"Liberation Sans", sans-serif' font-size="7.6" font-weight="bold" font-style="normal" text-anchor="middle" fill="#000" transform="translate(475 166.7)" stroke="#000" stroke-width="0.3" >W</text>
<text font-family='"Liberation Sans", sans-serif' font-size="7.6" font-weight="bold" font-style="normal" text-anchor="middle" fill="#000" transform="translate(516 166.7)" stroke="#000" stroke-width="0.3" >L</text>
<text font-family='"Liberation Sans", sans-serif' font-size="7.6" font-weight="bold" font-style="normal" text-anchor="middle" fill="#000" transform="translate(567.5 166.7)" stroke="#000" stroke-width="0.3" >G</text>
<text font-family='"Liberation Sans", sans-serif' font-size="7.6" font-weight="bold" font-style="normal" text-anchor="middle" fill="#000" transform="translate(630.1 166.7)" stroke="#000" stroke-width="0.3" >X</text>
<text font-family='"Liberation Sans", sans-serif' font-size="7.6" font-weight="bold" font-style="normal" text-anchor="middle" fill="#000" transform="translate(660.1 166.7)" stroke="#000" stroke-width="0.3" >W</text>
<text font-family='"Liberation Sans", sans-serif' font-size="7.6" font-weight="bold" font-style="normal" text-anchor="middle" fill="#000" transform="translate(681 166.7)" stroke="#000" stroke-width="0.3" >K</text>
<text font-family='"Liberation Serif", serif' font-size="8.8" font-weight="bold" font-style="italic" text-anchor="middle" fill="#000" transform="translate(563.5 176) scale(1.023 1)" stroke="#000" stroke-width="0.3" >k-points</text>
<text font-family='"Liberation Serif", serif' font-size="9.2" font-weight="bold" font-style="normal" text-anchor="middle" fill="#000" transform="translate(456 64.2) rotate(-90) scale(1.047 1)" stroke="#000" stroke-width="0.3" >Energy (eV)</text>
<line x1="515.03" y1="58.19" x2="567.34" y2="85.3" stroke="#22801a" stroke-width="1.15"/>
<polygon points="515.03,58.19 520.23,63.36 522.26,59.45" fill="#22801a"/>
<polygon points="567.34,85.3 562.14,80.13 560.11,84.03" fill="#22801a"/>
<text font-family='"Liberation Sans", sans-serif' font-size="6.4" font-weight="bold" font-style="normal" text-anchor="start" fill="#22801a" transform="translate(533.6 64.9) scale(0.859 1)" stroke="#22801a" stroke-width="0.35" >E<tspan font-size="4.4" dy="1.6">g</tspan><tspan dy="-1.6">=1.896 eV</tspan></text>
<text font-family='"Liberation Sans", sans-serif' font-size="5.6" font-weight="bold" font-style="normal" text-anchor="start" fill="#22801a" transform="translate(673 81)" stroke="#22801a" stroke-width="0.3" >E<tspan font-size="3.8" dy="1.3">F</tspan><tspan dy="-1.3"></tspan></text>
<text font-family='"Liberation Sans", sans-serif' font-size="7.6" font-weight="normal" font-style="normal" text-anchor="start" fill="#000" transform="translate(549.3 10.5) scale(0.990 1)" stroke="#000" stroke-width="0.3" >(a)</text>
<text font-family='"Liberation Serif", serif' font-size="9" font-weight="bold" font-style="normal" text-anchor="start" fill="#000" transform="translate(558.8 10.5) scale(1.024 1)" stroke="#000" stroke-width="0.3" >Na<tspan font-size="6" dy="1.8">2</tspan><tspan dy="-1.8">LiBiI<tspan font-size="6" dy="1.8">6</tspan><tspan dy="-1.8"></tspan></tspan></text>
<clipPath id="r194"><rect x="475.1" y="194.6" width="205.4" height="139.8"/></clipPath>
<g clip-path="url(#r194)">
<g fill="none" stroke="#1500c8" stroke-width="1.65" stroke-linejoin="round">
<path d="M475.1 307.56 C489.2 304.94 503.31 303.92 517.41 303.92 C534.6 303.92 551.78 310.91 568.97 310.91 C588.96 310.91 608.95 306.86 628.94 306.86 C639.01 306.86 649.07 307.84 659.14 307.84 C666.26 307.84 673.38 307.42 680.5 306.86"/>
<path d="M475.1 307.56 C489.2 311.9 503.31 315.39 517.41 315.39 C534.6 315.39 551.78 311.89 568.97 310.91 C588.96 309.77 608.95 308.89 628.94 308.4 C639.01 308.15 649.07 307.84 659.14 307.84 C666.26 307.84 673.38 309.41 680.5 310.91"/>
</g>
<g fill="none" stroke="#1500c8" stroke-width="1.65" stroke-linejoin="round">
<path d="M475.1 270.34 C489.2 270.34 503.31 269.98 517.41 269.55 C534.6 269.02 551.78 264.5 568.97 264.5 C588.96 264.5 608.95 267.95 628.94 267.95 C639.01 267.95 649.07 267.68 659.14 267.42 C666.26 267.24 673.38 266.88 680.5 266.49"/>
<path d="M475.1 268.88 C489.2 271.39 503.31 273.8 517.41 273.8 C534.6 273.8 551.78 272.73 568.97 272.73 C588.96 272.73 608.95 272.73 628.94 272.73 C639.01 272.73 649.07 269.63 659.14 269.15 C666.26 268.81 673.38 268.48 680.5 268.48"/>
<path d="M475.1 273.8 C489.2 271.3 503.31 269.55 517.41 269.55 C534.6 269.55 551.78 272.8 568.97 273.13 C588.96 273.52 608.95 273.8 628.94 273.8 C639.01 273.8 649.07 273.13 659.14 272.73 C666.26 272.46 673.38 272.14 680.5 271.8"/>
<path d="M475.1 274.46 C489.2 274.11 503.31 273.8 517.41 273.8 C534.6 273.8 551.78 273.98 568.97 274.06 C588.96 274.16 608.95 274.24 628.94 274.33 C639.01 274.37 649.07 274.46 659.14 274.46 C666.26 274.46 673.38 274.12 680.5 273.8"/>
<path d="M475.1 276.59 C489.2 280.23 503.31 282.16 517.41 282.16 C534.6 282.16 551.78 274.46 568.97 274.46 C588.96 274.46 608.95 279.11 628.94 279.11 C639.01 279.11 649.07 276.45 659.14 276.45 C666.26 276.45 673.38 276.54 680.5 277.12"/>
<path d="M475.1 278.71 C489.2 276.17 503.31 273.8 517.41 273.8 C534.6 273.8 551.78 274.37 568.97 275.12 C588.96 276.01 608.95 283.7 628.94 285.62 C639.01 286.58 649.07 287.74 659.14 287.74 C666.26 287.74 673.38 286.41 680.5 284.82"/>
<path d="M475.1 280.84 C489.2 282.4 503.31 283.85 517.41 285.09 C534.6 286.59 551.78 289.07 568.97 289.07 C588.96 289.07 608.95 277.52 628.94 277.52 C639.01 277.52 649.07 277.62 659.14 277.78 C666.26 277.9 673.38 278.51 680.5 279.11"/>
<path d="M475.1 287.87 C489.2 288.02 503.31 288.26 517.41 288.54 C534.6 288.88 551.78 289.47 568.97 290 C588.96 290.61 608.95 291.99 628.94 291.99 C639.01 291.99 649.07 288.41 659.14 288.41 C666.26 288.41 673.38 288.41 680.5 289.07"/>
<path d="M475.1 290 C489.2 290 503.31 290 517.41 290 C534.6 290 551.78 290.52 568.97 291.06 C588.96 291.69 608.95 295.18 628.94 295.18 C639.01 295.18 649.07 289.07 659.14 289.07 C666.26 289.07 673.38 289.53 680.5 291.06"/>
<path d="M475.1 271.8 C489.2 272.77 503.31 273.8 517.41 273.8 C534.6 273.8 551.78 273.8 568.97 273.8 C588.96 273.8 608.95 280.7 628.94 280.7 C639.01 280.7 649.07 278.31 659.14 278.31 C666.26 278.31 673.38 280.61 680.5 283.09"/>
<path d="M475.1 288.41 C489.2 286.55 503.31 285.09 517.41 285.09 C534.6 285.09 551.78 287.08 568.97 287.08 C588.96 287.08 608.95 286.41 628.94 286.41 C639.01 286.41 649.07 287.08 659.14 287.08 C666.26 287.08 673.38 287.08 680.5 287.08"/>
</g>
<g fill="none" stroke="#1500c8" stroke-width="1.65" stroke-linejoin="round">
<path d="M475.1 191.66 C489.2 200.77 503.31 201.59 517.41 201.59 C519.4 201.59 521.38 200.19 523.37 200.19 C538.57 200.19 553.77 209.98 568.97 209.98 C588.96 209.98 608.95 195.97 628.94 187.61 C639.01 183.4 649.07 173.63 659.14 173.63 C666.26 173.63 673.38 173.63 680.5 173.63"/>
<path d="M475.1 191.66 C489.2 194.5 503.31 197.84 517.41 201.59 C534.6 206.15 551.78 217.53 568.97 217.53 C588.96 217.53 608.95 202.87 628.94 192.64 C639.01 187.49 649.07 173.63 659.14 173.63 C666.26 173.63 673.38 173.63 680.5 173.63"/>
<path d="M475.1 223.4 C480.37 221.1 485.64 218.72 490.92 218.09 C499.75 217.02 508.58 216.27 517.41 216.27 C534.6 216.27 551.78 230.11 568.97 230.11 C588.96 230.11 608.95 222.56 628.94 222.56 C639.01 222.56 649.07 223.68 659.14 223.68 C666.26 223.68 673.38 221.72 680.5 219.76"/>
<path d="M475.1 223.4 C480.37 222.52 485.64 221.63 490.92 220.74 C499.75 219.26 508.58 216.27 517.41 216.27 C534.6 216.27 551.78 230.11 568.97 230.11 C588.96 230.11 608.95 225.56 628.94 224.66 C639.01 224.2 649.07 224.09 659.14 223.68 C666.26 223.39 673.38 222.99 680.5 222.56"/>
<path d="M475.1 223.4 C489.2 230.89 503.31 237.1 517.41 237.1 C534.6 237.1 551.78 231.84 568.97 230.11 C588.96 228.1 608.95 226.64 628.94 225.36 C639.01 224.71 649.07 223.68 659.14 223.68 C666.26 223.68 673.38 225.73 680.5 227.87"/>
</g>
</g>
<line x1="517.41" y1="194.6" x2="517.41" y2="334.4" stroke="#22801a" stroke-width="1.1" stroke-dasharray="2.9 2"/>
<line x1="568.97" y1="194.6" x2="568.97" y2="334.4" stroke="#22801a" stroke-width="1.1" stroke-dasharray="2.9 2"/>
<line x1="628.94" y1="194.6" x2="628.94" y2="334.4" stroke="#22801a" stroke-width="1.1" stroke-dasharray="2.9 2"/>
<line x1="659.14" y1="194.6" x2="659.14" y2="334.4" stroke="#22801a" stroke-width="1.1" stroke-dasharray="2.9 2"/>
<line x1="475.1" y1="264.5" x2="680.5" y2="264.5" stroke="#22801a" stroke-width="1.1" stroke-dasharray="3.3 2.4"/>
<rect x="475.1" y="194.6" width="205.4" height="139.8" fill="none" stroke="#000" stroke-width="1.6"/>
<line x1="473.1" y1="334.4" x2="475.1" y2="334.4" stroke="#000" stroke-width="1"/>
<line x1="473.9" y1="327.41" x2="475.1" y2="327.41" stroke="#000" stroke-width="1"/>
<line x1="473.1" y1="320.42" x2="475.1" y2="320.42" stroke="#000" stroke-width="1"/>
<line x1="473.9" y1="313.43" x2="475.1" y2="313.43" stroke="#000" stroke-width="1"/>
<line x1="473.1" y1="306.44" x2="475.1" y2="306.44" stroke="#000" stroke-width="1"/>
<line x1="473.9" y1="299.45" x2="475.1" y2="299.45" stroke="#000" stroke-width="1"/>
<line x1="473.1" y1="292.46" x2="475.1" y2="292.46" stroke="#000" stroke-width="1"/>
<line x1="473.9" y1="285.47" x2="475.1" y2="285.47" stroke="#000" stroke-width="1"/>
<line x1="473.1" y1="278.48" x2="475.1" y2="278.48" stroke="#000" stroke-width="1"/>
<line x1="473.9" y1="271.49" x2="475.1" y2="271.49" stroke="#000" stroke-width="1"/>
<line x1="473.1" y1="264.5" x2="475.1" y2="264.5" stroke="#000" stroke-width="1"/>
<line x1="473.9" y1="257.51" x2="475.1" y2="257.51" stroke="#000" stroke-width="1"/>
<line x1="473.1" y1="250.52" x2="475.1" y2="250.52" stroke="#000" stroke-width="1"/>
<line x1="473.9" y1="243.53" x2="475.1" y2="243.53" stroke="#000" stroke-width="1"/>
<line x1="473.1" y1="236.54" x2="475.1" y2="236.54" stroke="#000" stroke-width="1"/>
<line x1="473.9" y1="229.55" x2="475.1" y2="229.55" stroke="#000" stroke-width="1"/>
<line x1="473.1" y1="222.56" x2="475.1" y2="222.56" stroke="#000" stroke-width="1"/>
<line x1="473.9" y1="215.57" x2="475.1" y2="215.57" stroke="#000" stroke-width="1"/>
<line x1="473.1" y1="208.58" x2="475.1" y2="208.58" stroke="#000" stroke-width="1"/>
<line x1="473.9" y1="201.59" x2="475.1" y2="201.59" stroke="#000" stroke-width="1"/>
<line x1="473.1" y1="194.6" x2="475.1" y2="194.6" stroke="#000" stroke-width="1"/>
<text font-family='"Liberation Serif", serif' font-size="10" font-weight="bold" font-style="normal" text-anchor="end" fill="#000" transform="translate(471.3 337.7)" stroke="#000" stroke-width="0.3" >&#8722;5</text>
<text font-family='"Liberation Serif", serif' font-size="10" font-weight="bold" font-style="normal" text-anchor="end" fill="#000" transform="translate(471.3 323.72)" stroke="#000" stroke-width="0.3" >&#8722;4</text>
<text font-family='"Liberation Serif", serif' font-size="10" font-weight="bold" font-style="normal" text-anchor="end" fill="#000" transform="translate(471.3 309.74)" stroke="#000" stroke-width="0.3" >&#8722;3</text>
<text font-family='"Liberation Serif", serif' font-size="10" font-weight="bold" font-style="normal" text-anchor="end" fill="#000" transform="translate(471.3 295.76)" stroke="#000" stroke-width="0.3" >&#8722;2</text>
<text font-family='"Liberation Serif", serif' font-size="10" font-weight="bold" font-style="normal" text-anchor="end" fill="#000" transform="translate(471.3 281.78)" stroke="#000" stroke-width="0.3" >&#8722;1</text>
<text font-family='"Liberation Serif", serif' font-size="10" font-weight="bold" font-style="normal" text-anchor="end" fill="#000" transform="translate(471.3 267.8)" stroke="#000" stroke-width="0.3" >0</text>
<text font-family='"Liberation Serif", serif' font-size="10" font-weight="bold" font-style="normal" text-anchor="end" fill="#000" transform="translate(471.3 253.82)" stroke="#000" stroke-width="0.3" >1</text>
<text font-family='"Liberation Serif", serif' font-size="10" font-weight="bold" font-style="normal" text-anchor="end" fill="#000" transform="translate(471.3 239.84)" stroke="#000" stroke-width="0.3" >2</text>
<text font-family='"Liberation Serif", serif' font-size="10" font-weight="bold" font-style="normal" text-anchor="end" fill="#000" transform="translate(471.3 225.86)" stroke="#000" stroke-width="0.3" >3</text>
<text font-family='"Liberation Serif", serif' font-size="10" font-weight="bold" font-style="normal" text-anchor="end" fill="#000" transform="translate(471.3 211.88)" stroke="#000" stroke-width="0.3" >4</text>
<text font-family='"Liberation Serif", serif' font-size="10" font-weight="bold" font-style="normal" text-anchor="end" fill="#000" transform="translate(471.3 197.9)" stroke="#000" stroke-width="0.3" >5</text>
<text font-family='"Liberation Sans", sans-serif' font-size="7.6" font-weight="bold" font-style="normal" text-anchor="middle" fill="#000" transform="translate(474.7 342.3)" stroke="#000" stroke-width="0.3" >W</text>
<text font-family='"Liberation Sans", sans-serif' font-size="7.6" font-weight="bold" font-style="normal" text-anchor="middle" fill="#000" transform="translate(517.2 342.3)" stroke="#000" stroke-width="0.3" >L</text>
<text font-family='"Liberation Sans", sans-serif' font-size="7.6" font-weight="bold" font-style="normal" text-anchor="middle" fill="#000" transform="translate(567.7 342.3)" stroke="#000" stroke-width="0.3" >G</text>
<text font-family='"Liberation Sans", sans-serif' font-size="7.6" font-weight="bold" font-style="normal" text-anchor="middle" fill="#000" transform="translate(627.5 342.3)" stroke="#000" stroke-width="0.3" >X</text>
<text font-family='"Liberation Sans", sans-serif' font-size="7.6" font-weight="bold" font-style="normal" text-anchor="middle" fill="#000" transform="translate(657.6 342.3)" stroke="#000" stroke-width="0.3" >W</text>
<text font-family='"Liberation Sans", sans-serif' font-size="7.6" font-weight="bold" font-style="normal" text-anchor="middle" fill="#000" transform="translate(680.2 342.3)" stroke="#000" stroke-width="0.3" >K</text>
<text font-family='"Liberation Serif", serif' font-size="8.8" font-weight="bold" font-style="italic" text-anchor="middle" fill="#000" transform="translate(571.45 352) scale(1.019 1)" stroke="#000" stroke-width="0.3" >k-points</text>
<text font-family='"Liberation Serif", serif' font-size="9.2" font-weight="bold" font-style="normal" text-anchor="middle" fill="#000" transform="translate(458.2 253.35) rotate(-90) scale(1.011 1)" stroke="#000" stroke-width="0.3" >Energy (eV)</text>
<line x1="517.41" y1="237.1" x2="568.97" y2="264.5" stroke="#22801a" stroke-width="1.15"/>
<polygon points="517.41,237.1 522.56,242.33 524.63,238.44" fill="#22801a"/>
<polygon points="568.97,264.5 563.82,259.27 561.75,263.16" fill="#22801a"/>
<text font-family='"Liberation Sans", sans-serif' font-size="6.4" font-weight="bold" font-style="normal" text-anchor="start" fill="#22801a" transform="translate(533.9 242.9) scale(0.845 1)" stroke="#22801a" stroke-width="0.35" >E<tspan font-size="4.4" dy="1.6">g</tspan><tspan dy="-1.6">= 2.004 eV</tspan></text>
<text font-family='"Liberation Sans", sans-serif' font-size="5.6" font-weight="bold" font-style="normal" text-anchor="start" fill="#22801a" transform="translate(673 259.2)" stroke="#22801a" stroke-width="0.3" >E<tspan font-size="3.8" dy="1.3">F</tspan><tspan dy="-1.3"></tspan></text>
<text font-family='"Liberation Sans", sans-serif' font-size="7.6" font-weight="normal" font-style="normal" text-anchor="start" fill="#000" transform="translate(545.8 189.7)" stroke="#000" stroke-width="0.3" >(b)</text>
<text font-family='"Liberation Serif", serif' font-size="9" font-weight="bold" font-style="normal" text-anchor="start" fill="#000" transform="translate(560.1 189.7) scale(0.985 1)" stroke="#000" stroke-width="0.3" >K<tspan font-size="6" dy="1.8">2</tspan><tspan dy="-1.8">LiBiI<tspan font-size="6" dy="1.8">6</tspan><tspan dy="-1.8"></tspan></tspan></text>
<clipPath id="r371"><rect x="472.2" y="371.6" width="208.2" height="142.2"/></clipPath>
<g clip-path="url(#r371)">
<g fill="none" stroke="#8c0f0a" stroke-width="1.65" stroke-linejoin="round">
<path d="M472.2 486.5 C486.5 483.83 500.79 482.8 515.09 482.8 C532.51 482.8 549.93 489.91 567.35 489.91 C587.61 489.91 607.88 485.79 628.14 485.79 C638.34 485.79 648.55 486.78 658.75 486.78 C665.96 486.78 673.18 486.35 680.4 485.79"/>
<path d="M472.2 486.5 C486.5 490.91 500.79 494.46 515.09 494.46 C532.51 494.46 549.93 490.91 567.35 489.91 C587.61 488.75 607.88 487.85 628.14 487.35 C638.34 487.1 648.55 486.78 658.75 486.78 C665.96 486.78 673.18 488.38 680.4 489.91"/>
</g>
<g fill="none" stroke="#8c0f0a" stroke-width="1.65" stroke-linejoin="round">
<path d="M472.2 448.64 C486.5 448.64 500.79 448.28 515.09 447.83 C532.51 447.29 549.93 442.7 567.35 442.7 C587.61 442.7 607.88 446.21 628.14 446.21 C638.34 446.21 648.55 445.93 658.75 445.67 C665.96 445.49 673.18 445.12 680.4 444.73"/>
<path d="M472.2 447.16 C486.5 449.71 500.79 452.16 515.09 452.16 C532.51 452.16 549.93 451.08 567.35 451.08 C587.61 451.08 607.88 451.08 628.14 451.08 C638.34 451.08 648.55 447.92 658.75 447.43 C665.96 447.08 673.18 446.75 680.4 446.75"/>
<path d="M472.2 452.16 C486.5 449.62 500.79 447.83 515.09 447.83 C532.51 447.83 549.93 451.14 567.35 451.48 C587.61 451.88 607.88 452.16 628.14 452.16 C638.34 452.16 648.55 451.48 658.75 451.08 C665.96 450.79 673.18 450.47 680.4 450.13"/>
<path d="M472.2 452.83 C486.5 452.47 500.79 452.16 515.09 452.16 C532.51 452.16 549.93 452.34 567.35 452.43 C587.61 452.52 607.88 452.61 628.14 452.7 C638.34 452.74 648.55 452.83 658.75 452.83 C665.96 452.83 673.18 452.49 680.4 452.16"/>
<path d="M472.2 454.99 C486.5 458.7 500.79 460.67 515.09 460.67 C532.51 460.67 549.93 452.83 567.35 452.83 C587.61 452.83 607.88 457.56 628.14 457.56 C638.34 457.56 648.55 454.86 658.75 454.86 C665.96 454.86 673.18 454.95 680.4 455.53"/>
<path d="M472.2 457.15 C486.5 454.57 500.79 452.16 515.09 452.16 C532.51 452.16 549.93 452.74 567.35 453.51 C587.61 454.4 607.88 462.23 628.14 464.18 C638.34 465.16 648.55 466.34 658.75 466.34 C665.96 466.34 673.18 464.98 680.4 463.37"/>
<path d="M472.2 459.32 C486.5 460.91 500.79 462.38 515.09 463.64 C532.51 465.17 549.93 467.69 567.35 467.69 C587.61 467.69 607.88 455.94 628.14 455.94 C638.34 455.94 648.55 456.04 658.75 456.21 C665.96 456.33 673.18 456.95 680.4 457.56"/>
<path d="M472.2 466.48 C486.5 466.62 500.79 466.86 515.09 467.15 C532.51 467.5 549.93 468.1 567.35 468.64 C587.61 469.26 607.88 470.66 628.14 470.66 C638.34 470.66 648.55 467.02 658.75 467.02 C665.96 467.02 673.18 467.02 680.4 467.69"/>
<path d="M472.2 468.64 C486.5 468.64 500.79 468.64 515.09 468.64 C532.51 468.64 549.93 469.17 567.35 469.72 C587.61 470.35 607.88 473.91 628.14 473.91 C638.34 473.91 648.55 467.69 658.75 467.69 C665.96 467.69 673.18 468.16 680.4 469.72"/>
<path d="M472.2 450.13 C486.5 451.11 500.79 452.16 515.09 452.16 C532.51 452.16 549.93 452.16 567.35 452.16 C587.61 452.16 607.88 459.18 628.14 459.18 C638.34 459.18 648.55 456.75 658.75 456.75 C665.96 456.75 673.18 459.08 680.4 461.61"/>
<path d="M472.2 467.02 C486.5 465.13 500.79 463.64 515.09 463.64 C532.51 463.64 549.93 465.67 567.35 465.67 C587.61 465.67 607.88 464.99 628.14 464.99 C638.34 464.99 648.55 465.67 658.75 465.67 C665.96 465.67 673.18 465.67 680.4 465.67"/>
</g>
<g fill="none" stroke="#8c0f0a" stroke-width="1.65" stroke-linejoin="round">
<path d="M472.2 368.76 C486.5 370.59 500.79 372.59 515.09 374.73 C532.51 377.34 549.93 383.26 567.35 383.26 C587.61 383.26 607.88 368.51 628.14 361.22 C638.34 357.55 648.55 350.27 658.75 350.27 C665.96 350.27 673.18 350.27 680.4 350.27"/>
<path d="M472.2 368.76 C486.5 369.43 500.79 371.94 515.09 374.73 C532.51 378.13 549.93 392.65 567.35 392.65 C587.61 392.65 607.88 375.57 628.14 365.91 C638.34 361.05 648.55 350.27 658.75 350.27 C665.96 350.27 673.18 350.27 680.4 350.27"/>
<path d="M472.2 400.47 C477.54 398.44 482.89 396.36 488.23 395.77 C497.18 394.79 506.14 394.07 515.09 394.07 C532.51 394.07 549.93 408.15 567.35 408.15 C587.61 408.15 607.88 400.04 628.14 400.04 C638.34 400.04 648.55 400.47 658.75 400.47 C665.96 400.47 673.18 399.16 680.4 397.91"/>
<path d="M472.2 400.47 C477.54 399.81 482.89 399.1 488.23 398.33 C497.18 397.05 506.14 394.07 515.09 394.07 C532.51 394.07 549.93 408.15 567.35 408.15 C587.61 408.15 607.88 401.91 628.14 401.18 C638.34 400.81 648.55 400.47 658.75 400.47 C665.96 400.47 673.18 400.47 680.4 400.47"/>
<path d="M472.2 400.47 C486.5 408.06 500.79 414.54 515.09 414.54 C532.51 414.54 549.93 410.17 567.35 408.15 C587.61 405.79 607.88 402.42 628.14 401.46 C638.34 400.98 648.55 400.47 658.75 400.47 C665.96 400.47 673.18 402.25 680.4 404.02"/>
</g>
</g>
<line x1="515.09" y1="371.6" x2="515.09" y2="513.8" stroke="#22801a" stroke-width="1.1" stroke-dasharray="2.9 2"/>
<line x1="567.35" y1="371.6" x2="567.35" y2="513.8" stroke="#22801a" stroke-width="1.1" stroke-dasharray="2.9 2"/>
<line x1="628.14" y1="371.6" x2="628.14" y2="513.8" stroke="#22801a" stroke-width="1.1" stroke-dasharray="2.9 2"/>
<line x1="658.75" y1="371.6" x2="658.75" y2="513.8" stroke="#22801a" stroke-width="1.1" stroke-dasharray="2.9 2"/>
<line x1="472.2" y1="442.7" x2="680.4" y2="442.7" stroke="#22801a" stroke-width="1.1" stroke-dasharray="3.3 2.4"/>
<rect x="472.2" y="371.6" width="208.2" height="142.2" fill="none" stroke="#000" stroke-width="1.6"/>
<line x1="470.2" y1="513.8" x2="472.2" y2="513.8" stroke="#000" stroke-width="1"/>
<line x1="471" y1="506.69" x2="472.2" y2="506.69" stroke="#000" stroke-width="1"/>
<line x1="470.2" y1="499.58" x2="472.2" y2="499.58" stroke="#000" stroke-width="1"/>
<line x1="471" y1="492.47" x2="472.2" y2="492.47" stroke="#000" stroke-width="1"/>
<line x1="470.2" y1="485.36" x2="472.2" y2="485.36" stroke="#000" stroke-width="1"/>
<line x1="471" y1="478.25" x2="472.2" y2="478.25" stroke="#000" stroke-width="1"/>
<line x1="470.2" y1="471.14" x2="472.2" y2="471.14" stroke="#000" stroke-width="1"/>
<line x1="471" y1="464.03" x2="472.2" y2="464.03" stroke="#000" stroke-width="1"/>
<line x1="470.2" y1="456.92" x2="472.2" y2="456.92" stroke="#000" stroke-width="1"/>
<line x1="471" y1="449.81" x2="472.2" y2="449.81" stroke="#000" stroke-width="1"/>
<line x1="470.2" y1="442.7" x2="472.2" y2="442.7" stroke="#000" stroke-width="1"/>
<line x1="471" y1="435.59" x2="472.2" y2="435.59" stroke="#000" stroke-width="1"/>
<line x1="470.2" y1="428.48" x2="472.2" y2="428.48" stroke="#000" stroke-width="1"/>
<line x1="471" y1="421.37" x2="472.2" y2="421.37" stroke="#000" stroke-width="1"/>
<line x1="470.2" y1="414.26" x2="472.2" y2="414.26" stroke="#000" stroke-width="1"/>
<line x1="471" y1="407.15" x2="472.2" y2="407.15" stroke="#000" stroke-width="1"/>
<line x1="470.2" y1="400.04" x2="472.2" y2="400.04" stroke="#000" stroke-width="1"/>
<line x1="471" y1="392.93" x2="472.2" y2="392.93" stroke="#000" stroke-width="1"/>
<line x1="470.2" y1="385.82" x2="472.2" y2="385.82" stroke="#000" stroke-width="1"/>
<line x1="471" y1="378.71" x2="472.2" y2="378.71" stroke="#000" stroke-width="1"/>
<line x1="470.2" y1="371.6" x2="472.2" y2="371.6" stroke="#000" stroke-width="1"/>
<text font-family='"Liberation Serif", serif' font-size="10" font-weight="bold" font-style="normal" text-anchor="end" fill="#000" transform="translate(468.8 517.1)" stroke="#000" stroke-width="0.3" >&#8722;5</text>
<text font-family='"Liberation Serif", serif' font-size="10" font-weight="bold" font-style="normal" text-anchor="end" fill="#000" transform="translate(468.8 502.88)" stroke="#000" stroke-width="0.3" >&#8722;4</text>
<text font-family='"Liberation Serif", serif' font-size="10" font-weight="bold" font-style="normal" text-anchor="end" fill="#000" transform="translate(468.8 488.66)" stroke="#000" stroke-width="0.3" >&#8722;3</text>
<text font-family='"Liberation Serif", serif' font-size="10" font-weight="bold" font-style="normal" text-anchor="end" fill="#000" transform="translate(468.8 474.44)" stroke="#000" stroke-width="0.3" >&#8722;2</text>
<text font-family='"Liberation Serif", serif' font-size="10" font-weight="bold" font-style="normal" text-anchor="end" fill="#000" transform="translate(468.8 460.22)" stroke="#000" stroke-width="0.3" >&#8722;1</text>
<text font-family='"Liberation Serif", serif' font-size="10" font-weight="bold" font-style="normal" text-anchor="end" fill="#000" transform="translate(468.8 446)" stroke="#000" stroke-width="0.3" >0</text>
<text font-family='"Liberation Serif", serif' font-size="10" font-weight="bold" font-style="normal" text-anchor="end" fill="#000" transform="translate(468.8 431.78)" stroke="#000" stroke-width="0.3" >1</text>
<text font-family='"Liberation Serif", serif' font-size="10" font-weight="bold" font-style="normal" text-anchor="end" fill="#000" transform="translate(468.8 417.56)" stroke="#000" stroke-width="0.3" >2</text>
<text font-family='"Liberation Serif", serif' font-size="10" font-weight="bold" font-style="normal" text-anchor="end" fill="#000" transform="translate(468.8 403.34)" stroke="#000" stroke-width="0.3" >3</text>
<text font-family='"Liberation Serif", serif' font-size="10" font-weight="bold" font-style="normal" text-anchor="end" fill="#000" transform="translate(468.8 389.12)" stroke="#000" stroke-width="0.3" >4</text>
<text font-family='"Liberation Serif", serif' font-size="10" font-weight="bold" font-style="normal" text-anchor="end" fill="#000" transform="translate(468.8 374.9)" stroke="#000" stroke-width="0.3" >5</text>
<text font-family='"Liberation Sans", sans-serif' font-size="7.6" font-weight="bold" font-style="normal" text-anchor="middle" fill="#000" transform="translate(473 521.8)" stroke="#000" stroke-width="0.3" >W</text>
<text font-family='"Liberation Sans", sans-serif' font-size="7.6" font-weight="bold" font-style="normal" text-anchor="middle" fill="#000" transform="translate(515.2 521.8)" stroke="#000" stroke-width="0.3" >L</text>
<text font-family='"Liberation Sans", sans-serif' font-size="7.6" font-weight="bold" font-style="normal" text-anchor="middle" fill="#000" transform="translate(567 521.8)" stroke="#000" stroke-width="0.3" >G</text>
<text font-family='"Liberation Sans", sans-serif' font-size="7.6" font-weight="bold" font-style="normal" text-anchor="middle" fill="#000" transform="translate(628.2 521.8)" stroke="#000" stroke-width="0.3" >X</text>
<text font-family='"Liberation Sans", sans-serif' font-size="7.6" font-weight="bold" font-style="normal" text-anchor="middle" fill="#000" transform="translate(657.6 521.8)" stroke="#000" stroke-width="0.3" >W</text>
<text font-family='"Liberation Sans", sans-serif' font-size="7.6" font-weight="bold" font-style="normal" text-anchor="middle" fill="#000" transform="translate(680.2 521.8)" stroke="#000" stroke-width="0.3" >K</text>
<text font-family='"Liberation Serif", serif' font-size="8.8" font-weight="bold" font-style="italic" text-anchor="middle" fill="#000" transform="translate(573.05 533.5) scale(1.019 1)" stroke="#000" stroke-width="0.3" >k-points</text>
<text font-family='"Liberation Serif", serif' font-size="9.2" font-weight="bold" font-style="normal" text-anchor="middle" fill="#000" transform="translate(456.7 431.65) rotate(-90) scale(1.011 1)" stroke="#000" stroke-width="0.3" >Energy (eV)</text>
<line x1="515.09" y1="414.54" x2="567.35" y2="442.7" stroke="#22801a" stroke-width="1.15"/>
<polygon points="515.09,414.54 520.21,419.8 522.3,415.93" fill="#22801a"/>
<polygon points="567.35,442.7 562.23,437.44 560.14,441.32" fill="#22801a"/>
<text font-family='"Liberation Sans", sans-serif' font-size="6.4" font-weight="bold" font-style="normal" text-anchor="start" fill="#22801a" transform="translate(531 419.9) scale(0.872 1)" stroke="#22801a" stroke-width="0.34" >E<tspan font-size="4.4" dy="1.6">g</tspan><tspan dy="-1.6">= 2.038 eV</tspan></text>
<text font-family='"Liberation Sans", sans-serif' font-size="5.6" font-weight="bold" font-style="normal" text-anchor="start" fill="#22801a" transform="translate(673 438)" stroke="#22801a" stroke-width="0.3" >E<tspan font-size="3.8" dy="1.3">F</tspan><tspan dy="-1.3"></tspan></text>
<text font-family='"Liberation Sans", sans-serif' font-size="7.6" font-weight="normal" font-style="normal" text-anchor="start" fill="#000" transform="translate(544 365.4) scale(0.993 1)" stroke="#000" stroke-width="0.3" >(c)</text>
<text font-family='"Liberation Serif", serif' font-size="9" font-weight="bold" font-style="normal" text-anchor="start" fill="#000" transform="translate(553.4 365.4) scale(1.013 1)" stroke="#000" stroke-width="0.3" >Rb<tspan font-size="6" dy="1.8">2</tspan><tspan dy="-1.8">LiBiI<tspan font-size="6" dy="1.8">6</tspan><tspan dy="-1.8"></tspan></tspan></text>
</svg>
</body></html>
